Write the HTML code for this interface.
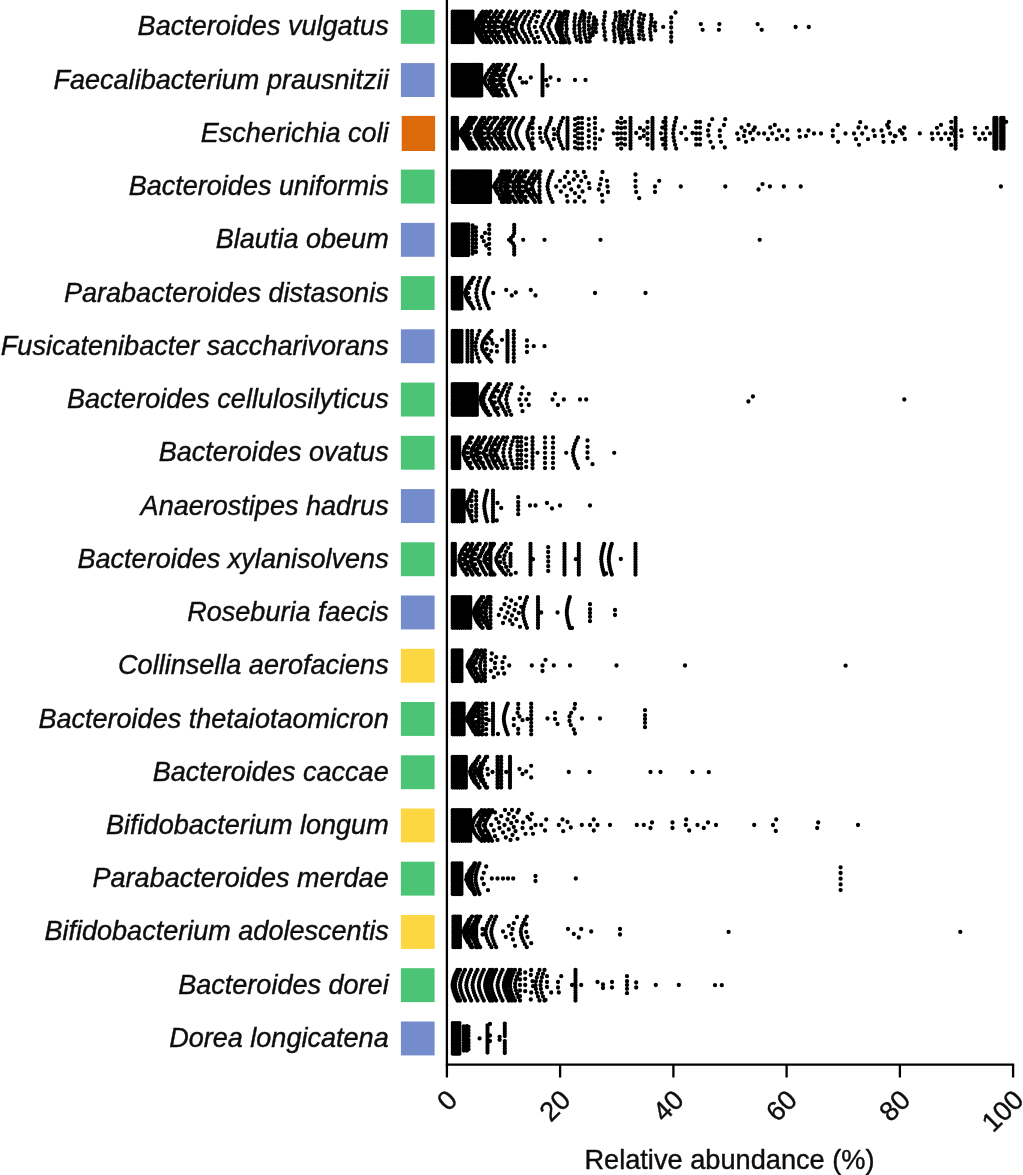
<!DOCTYPE html>
<html lang="en"><head><meta charset="utf-8"><title>Relative abundance</title>
<style>html,body{margin:0;padding:0;background:#fff}body{width:1023px;height:1175px;overflow:hidden}svg{display:block;will-change:transform}text{font-family:"Liberation Sans",Arial,Helvetica,sans-serif;fill:#0d0d0d;stroke:#0d0d0d;stroke-width:.4px;stroke-linejoin:round}</style></head><body>
<svg width="1023" height="1175" viewBox="0 0 1023 1175">
<rect width="1023" height="1175" fill="#fff"/>
<g font-size="27.05" font-style="italic" text-anchor="end">
<text x="388.7" y="35.4">Bacteroides vulgatus</text>
<text x="388.7" y="88.6">Faecalibacterium prausnitzii</text>
<text x="388.7" y="141.8">Escherichia coli</text>
<text x="388.7" y="195.1">Bacteroides uniformis</text>
<text x="388.7" y="248.3">Blautia obeum</text>
<text x="388.7" y="301.6">Parabacteroides distasonis</text>
<text x="388.7" y="354.8">Fusicatenibacter saccharivorans</text>
<text x="388.7" y="408.0">Bacteroides cellulosilyticus</text>
<text x="388.7" y="461.3">Bacteroides ovatus</text>
<text x="388.7" y="514.5">Anaerostipes hadrus</text>
<text x="388.7" y="567.8">Bacteroides xylanisolvens</text>
<text x="388.7" y="621.0">Roseburia faecis</text>
<text x="388.7" y="674.2">Collinsella aerofaciens</text>
<text x="388.7" y="727.5">Bacteroides thetaiotaomicron</text>
<text x="388.7" y="780.7">Bacteroides caccae</text>
<text x="388.7" y="834.0">Bifidobacterium longum</text>
<text x="388.7" y="887.2">Parabacteroides merdae</text>
<text x="388.7" y="940.4">Bifidobacterium adolescentis</text>
<text x="388.7" y="993.7">Bacteroides dorei</text>
<text x="388.7" y="1046.9">Dorea longicatena</text>
</g>
<rect x="400.9" y="9.9" width="33.7" height="33.9" fill="#4bc475"/>
<rect x="400.9" y="63.1" width="33.7" height="33.9" fill="#748bcc"/>
<rect x="401.7" y="115.9" width="33.4" height="35.1" fill="#dc6a0a"/>
<rect x="400.9" y="169.6" width="33.7" height="33.9" fill="#4bc475"/>
<rect x="400.9" y="222.9" width="33.7" height="33.9" fill="#748bcc"/>
<rect x="400.9" y="276.1" width="33.7" height="33.9" fill="#4bc475"/>
<rect x="400.9" y="329.3" width="33.7" height="33.9" fill="#748bcc"/>
<rect x="400.9" y="382.6" width="33.7" height="33.9" fill="#4bc475"/>
<rect x="400.9" y="435.8" width="33.7" height="33.9" fill="#4bc475"/>
<rect x="400.9" y="489.1" width="33.7" height="33.9" fill="#748bcc"/>
<rect x="400.9" y="542.3" width="33.7" height="33.9" fill="#4bc475"/>
<rect x="400.9" y="595.5" width="33.7" height="33.9" fill="#748bcc"/>
<rect x="400.9" y="648.8" width="33.7" height="33.9" fill="#fcd742"/>
<rect x="400.9" y="702.0" width="33.7" height="33.9" fill="#4bc475"/>
<rect x="400.9" y="755.3" width="33.7" height="33.9" fill="#4bc475"/>
<rect x="400.9" y="808.5" width="33.7" height="33.9" fill="#fcd742"/>
<rect x="400.9" y="861.7" width="33.7" height="33.9" fill="#4bc475"/>
<rect x="400.9" y="915.0" width="33.7" height="33.9" fill="#fcd742"/>
<rect x="400.9" y="968.2" width="33.7" height="33.9" fill="#4bc475"/>
<rect x="400.9" y="1021.5" width="33.7" height="33.9" fill="#748bcc"/>
<g stroke="#000" stroke-width="2.3" fill="none">
<path d="M446.9 0V1077.6"/>
<path d="M445.8 1064.7H1014.2"/>
<path d="M560.1 1064.7V1077.6M673.4 1064.7V1077.6M786.6 1064.7V1077.6M899.9 1064.7V1077.6M1013.1 1064.7V1077.6"/>
</g>
<g font-size="27.2" text-anchor="end">
<text transform="translate(458.9 1101.5) rotate(-45)" x="0" y="0">0</text>
<text transform="translate(572.1 1101.5) rotate(-45)" x="0" y="0">20</text>
<text transform="translate(685.4 1101.5) rotate(-45)" x="0" y="0">40</text>
<text transform="translate(798.6 1101.5) rotate(-45)" x="0" y="0">60</text>
<text transform="translate(911.9 1101.5) rotate(-45)" x="0" y="0">80</text>
<text transform="translate(1025.1 1101.5) rotate(-45)" x="0" y="0">100</text>
</g>
<text x="729.5" y="1168.8" font-size="27.2" text-anchor="middle">Relative abundance (%)</text>
<path d="M452.7 11.6h0M452.7 13.7h0M452.7 15.9h0M452.7 18.1h0M452.7 20.3h0M452.7 22.5h0M452.7 24.7h0M452.7 26.9h0M452.7 29.0h0M452.7 31.2h0M452.7 33.4h0M452.7 35.6h0M452.7 37.8h0M452.7 40.0h0M452.7 42.2h0M454.9 11.6h0M454.9 13.7h0M454.9 15.9h0M454.9 18.1h0M454.9 20.3h0M454.9 22.5h0M454.9 24.7h0M454.9 26.9h0M454.9 29.0h0M454.9 31.2h0M454.9 33.4h0M454.9 35.6h0M454.9 37.8h0M454.9 40.0h0M454.9 42.2h0M457.1 11.6h0M457.1 13.7h0M457.1 15.9h0M457.1 18.1h0M457.1 20.3h0M457.1 22.5h0M457.1 24.7h0M457.1 26.9h0M457.1 29.0h0M457.1 31.2h0M457.1 33.4h0M457.1 35.6h0M457.1 37.8h0M457.1 40.0h0M457.1 42.2h0M459.3 11.6h0M459.3 13.7h0M459.3 15.9h0M459.3 18.1h0M459.3 20.3h0M459.3 22.5h0M459.3 24.7h0M459.3 26.9h0M459.3 29.0h0M459.3 31.2h0M459.3 33.4h0M459.3 35.6h0M459.3 37.8h0M459.3 40.0h0M459.3 42.2h0M461.5 11.6h0M461.5 13.7h0M461.5 15.9h0M461.5 18.1h0M461.5 20.3h0M461.5 22.5h0M461.5 24.7h0M461.5 26.9h0M461.5 29.0h0M461.5 31.2h0M461.5 33.4h0M461.5 35.6h0M461.5 37.8h0M461.5 40.0h0M461.5 42.2h0M463.7 11.6h0M463.7 13.7h0M463.7 15.9h0M463.7 18.1h0M463.7 20.3h0M463.7 22.5h0M463.7 24.7h0M463.7 26.9h0M463.7 29.0h0M463.7 31.2h0M463.7 33.4h0M463.7 35.6h0M463.7 37.8h0M463.7 40.0h0M463.7 42.2h0M465.9 11.6h0M465.9 13.7h0M465.9 15.9h0M465.9 18.1h0M465.9 20.3h0M465.9 22.5h0M465.9 24.7h0M465.9 26.9h0M465.9 29.0h0M465.9 31.2h0M465.9 33.4h0M465.9 35.6h0M465.9 37.8h0M465.9 40.0h0M465.9 42.2h0M468.1 11.6h0M468.1 13.7h0M468.1 15.9h0M468.1 18.1h0M468.1 20.3h0M468.1 22.5h0M468.1 24.7h0M468.1 26.9h0M468.1 29.0h0M468.1 31.2h0M468.1 33.4h0M468.1 35.6h0M468.1 37.8h0M468.1 40.0h0M468.1 42.2h0M470.3 11.6h0M470.3 13.7h0M470.3 15.9h0M470.3 18.1h0M470.3 20.3h0M470.3 22.5h0M470.3 24.7h0M470.3 26.9h0M470.3 29.0h0M470.3 31.2h0M470.3 33.4h0M470.3 35.6h0M470.3 37.8h0M470.3 40.0h0M470.3 42.2h0M472.5 11.6h0M472.5 13.7h0M472.5 15.9h0M472.5 18.1h0M472.5 20.3h0M472.5 22.5h0M472.5 24.7h0M472.5 26.9h0M472.5 29.0h0M472.5 31.2h0M472.5 33.4h0M472.5 35.6h0M472.5 37.8h0M472.5 40.0h0M472.5 42.2h0M474.4 26.9h0M474.7 28.2h0M475.2 25.5h0M475.3 29.6h0M475.3 24.1h0M476.4 31.0h0M476.0 22.7h0M476.9 32.4h0M476.7 21.3h0M477.5 33.8h0M477.2 19.9h0M478.3 35.2h0M478.5 18.5h0M479.1 36.6h0M479.2 17.1h0M480.0 38.0h0M479.6 15.7h0M481.0 39.4h0M480.9 14.3h0M481.7 40.8h0M481.5 12.9h0M483.1 42.1h0M482.8 11.6h0M478.2 26.9h0M479.1 29.4h0M478.9 24.3h0M480.2 32.0h0M480.2 21.8h0M481.0 34.5h0M481.0 19.2h0M482.6 37.1h0M483.1 16.6h0M484.5 39.6h0M484.6 14.1h0M486.3 42.2h0M486.4 11.6h0M482.2 27.8h0M482.4 26.0h0M483.0 29.6h0M483.1 24.2h0M483.7 31.4h0M483.3 22.4h0M484.8 33.1h0M484.8 20.6h0M485.8 35.0h0M485.6 18.8h0M486.9 36.8h0M486.5 17.0h0M488.2 38.6h0M488.0 15.2h0M489.1 40.4h0M489.0 13.4h0M490.9 42.2h0M491.0 11.6h0M485.0 26.9h0M486.5 32.0h0M486.6 21.8h0M488.6 37.1h0M488.7 16.6h0M489.8 42.2h0M490.2 11.6h0M488.8 26.9h0M489.3 28.4h0M488.8 25.3h0M489.1 29.9h0M489.4 23.8h0M489.6 31.4h0M489.7 22.3h0M490.5 33.0h0M490.7 20.7h0M491.2 34.5h0M491.1 19.2h0M492.5 36.0h0M492.2 17.7h0M493.6 37.6h0M493.6 16.1h0M494.3 39.1h0M494.3 14.6h0M495.5 40.6h0M495.6 13.1h0M496.8 42.2h0M496.8 11.6h0M491.6 26.9h0M492.6 32.0h0M492.8 21.8h0M494.2 37.1h0M494.3 16.6h0M496.9 42.2h0M496.6 11.6h0M494.3 27.9h0M494.3 25.8h0M494.6 29.9h0M495.0 23.8h0M495.8 32.0h0M496.0 21.8h0M496.8 34.0h0M497.0 19.7h0M498.3 36.0h0M497.8 17.7h0M499.1 38.1h0M499.5 15.6h0M501.1 40.1h0M500.6 13.6h0M502.2 42.2h0M502.3 11.6h0M498.0 26.9h0M499.4 32.0h0M499.6 21.8h0M501.1 37.1h0M501.1 16.6h0M503.3 42.2h0M502.8 11.6h0M501.8 26.9h0M502.4 28.4h0M502.6 25.3h0M503.5 29.9h0M503.1 23.8h0M504.0 31.4h0M504.0 22.3h0M505.2 33.0h0M504.9 20.7h0M506.0 34.5h0M505.5 19.2h0M506.4 36.0h0M506.7 17.7h0M507.7 37.6h0M507.4 16.1h0M508.0 39.1h0M508.0 14.6h0M509.1 40.6h0M508.8 13.1h0M510.1 42.2h0M510.2 11.6h0M505.0 26.9h0M506.4 32.0h0M506.5 21.8h0M507.9 37.1h0M507.8 16.6h0M509.6 42.2h0M509.9 11.6h0M508.4 26.9h0M508.5 28.8h0M508.4 24.9h0M509.9 30.7h0M509.9 23.0h0M510.9 32.6h0M510.5 21.1h0M511.9 34.5h0M511.9 19.2h0M512.5 36.4h0M512.9 17.3h0M514.1 38.3h0M514.0 15.4h0M515.1 40.2h0M515.0 13.5h0M516.2 42.2h0M516.2 11.6h0M512.4 29.7h0M512.8 24.0h0M514.1 35.4h0M514.7 18.3h0M515.7 26.9h0M515.8 29.4h0M516.3 24.3h0M516.8 32.0h0M516.9 21.8h0M518.4 34.5h0M518.4 19.2h0M519.9 37.1h0M520.2 16.6h0M521.9 39.6h0M521.7 14.1h0M523.7 42.2h0M524.2 11.6h0M521.8 28.2h0M521.9 25.5h0M522.7 31.0h0M523.2 22.7h0M524.7 33.8h0M524.6 19.9h0M526.1 36.6h0M525.5 17.1h0M527.5 39.4h0M527.7 14.3h0M528.8 42.1h0M529.0 11.6h0M529.1 28.6h0M528.6 25.2h0M530.0 32.0h0M530.0 21.8h0M531.6 35.4h0M531.6 18.4h0M534.0 38.8h0M533.9 14.9h0M535.2 42.2h0M535.5 11.6h0M534.8 26.9h0M536.5 32.0h0M536.4 21.8h0M538.0 37.1h0M537.9 16.6h0M539.8 42.2h0M539.7 11.6h0M541.1 26.9h0M542.3 29.9h0M542.5 23.8h0M544.1 33.0h0M543.8 20.7h0M545.7 36.0h0M545.5 17.7h0M547.1 39.1h0M547.1 14.6h0M549.0 42.2h0M549.1 11.6h0M548.4 26.9h0M549.5 29.9h0M549.0 23.8h0M550.7 33.0h0M550.7 20.7h0M552.6 36.0h0M552.6 17.7h0M554.0 39.1h0M554.3 14.6h0M556.1 42.2h0M555.8 11.6h0M556.5 27.9h0M556.4 25.8h0M557.2 29.9h0M557.1 23.8h0M557.8 32.0h0M558.1 21.8h0M558.9 34.0h0M559.0 19.7h0M560.9 36.0h0M560.3 17.7h0M561.9 38.1h0M561.9 15.6h0M564.1 40.1h0M563.6 13.6h0M565.2 42.2h0M565.8 11.6h0M560.6 29.7h0M560.7 24.0h0M562.6 35.4h0M562.4 18.3h0M559.8 12.3h0M559.6 15.6h0M558.4 18.9h0M559.0 22.3h0M559.1 25.6h0M558.1 28.9h0M558.9 32.3h0M559.8 35.6h0M560.9 38.9h0M560.8 42.3h0M565.0 11.7h0M563.7 15.1h0M563.0 18.5h0M562.4 21.9h0M561.9 25.3h0M561.9 28.7h0M561.6 32.1h0M562.5 35.5h0M563.5 38.9h0M563.2 42.3h0M567.9 11.9h0M567.3 15.3h0M566.6 18.7h0M566.3 22.1h0M566.3 25.5h0M566.8 28.9h0M566.2 32.3h0M566.7 35.7h0M568.3 39.1h0M569.3 42.5h0M575.4 14.3h0M574.9 18.0h0M574.4 21.7h0M574.6 25.4h0M574.3 29.0h0M574.5 32.7h0M575.7 36.4h0M576.7 40.1h0M582.6 11.4h0M581.5 14.8h0M580.4 18.2h0M579.8 21.6h0M579.1 25.0h0M579.6 28.4h0M579.7 31.8h0M579.7 35.2h0M580.4 38.6h0M580.9 42.0h0M584.7 13.9h0M584.5 17.3h0M583.9 20.8h0M584.2 24.2h0M584.2 27.6h0M584.2 31.1h0M584.7 34.5h0M585.7 37.9h0M586.6 41.4h0M590.1 13.7h0M589.1 17.7h0M588.5 21.6h0M588.8 25.6h0M588.8 29.6h0M589.5 33.5h0M589.9 37.5h0M589.7 41.4h0M594.1 17.5h0M593.7 21.1h0M593.3 24.6h0M592.1 28.1h0M593.2 31.6h0M592.7 35.2h0M596.1 20.3h0M596.6 24.2h0M595.7 28.2h0M596.1 32.1h0M605.1 12.4h0M604.6 16.3h0M604.2 20.2h0M603.4 24.1h0M603.9 28.0h0M604.8 31.9h0M604.5 35.8h0M605.5 39.7h0M615.6 12.9h0M615.9 16.5h0M615.2 20.0h0M613.5 23.6h0M614.3 27.1h0M613.6 30.7h0M614.4 34.2h0M614.7 37.8h0M614.5 41.3h0M620.1 12.0h0M620.3 15.4h0M620.1 18.8h0M619.4 22.2h0M619.0 25.6h0M618.5 29.0h0M619.5 32.4h0M619.8 35.8h0M621.0 39.2h0M621.6 42.6h0M623.8 15.0h0M622.7 18.4h0M623.3 21.9h0M622.7 25.4h0M622.0 28.8h0M623.5 32.3h0M622.9 35.7h0M623.7 39.2h0M628.3 11.6h0M627.5 15.5h0M626.8 19.3h0M626.3 23.1h0M626.0 26.9h0M627.3 30.8h0M627.9 34.6h0M628.3 38.4h0M629.4 42.2h0M634.1 11.4h0M632.2 14.8h0M632.2 18.2h0M631.4 21.6h0M631.7 25.0h0M631.0 28.4h0M631.2 31.8h0M631.7 35.2h0M632.4 38.6h0M633.2 42.0h0M640.4 14.0h0M639.4 18.1h0M638.8 22.2h0M639.3 26.2h0M639.4 30.3h0M639.0 34.4h0M639.5 38.4h0M644.2 15.4h0M643.3 19.4h0M642.2 23.4h0M642.3 27.4h0M642.2 31.3h0M643.2 35.3h0M643.8 39.3h0M651.2 15.0h0M651.6 18.5h0M651.1 22.0h0M650.7 25.5h0M649.9 29.1h0M650.3 32.6h0M650.7 36.1h0M651.2 39.6h0M655.2 22.6h0M654.7 26.5h0M655.3 30.4h0M663.2 26.9h0M671.2 17.5h0M671.2 22.5h0M671.2 27.5h0M671.2 32.5h0M671.2 37.0h0M671.2 41.5h0M675.5 12.5h0M700.8 24.1h0M702.6 29.8h0M719.4 24.1h0M718.9 29.8h0M757.6 24.1h0M761.7 29.8h0M795.6 27.0h0M808.8 27.0h0M452.7 64.8h0M452.7 67.0h0M452.7 69.2h0M452.7 71.3h0M452.7 73.5h0M452.7 75.7h0M452.7 77.9h0M452.7 80.1h0M452.7 82.3h0M452.7 84.5h0M452.7 86.6h0M452.7 88.8h0M452.7 91.0h0M452.7 93.2h0M452.7 95.4h0M454.9 64.8h0M454.9 67.0h0M454.9 69.2h0M454.9 71.3h0M454.9 73.5h0M454.9 75.7h0M454.9 77.9h0M454.9 80.1h0M454.9 82.3h0M454.9 84.5h0M454.9 86.6h0M454.9 88.8h0M454.9 91.0h0M454.9 93.2h0M454.9 95.4h0M457.1 64.8h0M457.1 67.0h0M457.1 69.2h0M457.1 71.3h0M457.1 73.5h0M457.1 75.7h0M457.1 77.9h0M457.1 80.1h0M457.1 82.3h0M457.1 84.5h0M457.1 86.6h0M457.1 88.8h0M457.1 91.0h0M457.1 93.2h0M457.1 95.4h0M459.3 64.8h0M459.3 67.0h0M459.3 69.2h0M459.3 71.3h0M459.3 73.5h0M459.3 75.7h0M459.3 77.9h0M459.3 80.1h0M459.3 82.3h0M459.3 84.5h0M459.3 86.6h0M459.3 88.8h0M459.3 91.0h0M459.3 93.2h0M459.3 95.4h0M461.5 64.8h0M461.5 67.0h0M461.5 69.2h0M461.5 71.3h0M461.5 73.5h0M461.5 75.7h0M461.5 77.9h0M461.5 80.1h0M461.5 82.3h0M461.5 84.5h0M461.5 86.6h0M461.5 88.8h0M461.5 91.0h0M461.5 93.2h0M461.5 95.4h0M463.7 64.8h0M463.7 67.0h0M463.7 69.2h0M463.7 71.3h0M463.7 73.5h0M463.7 75.7h0M463.7 77.9h0M463.7 80.1h0M463.7 82.3h0M463.7 84.5h0M463.7 86.6h0M463.7 88.8h0M463.7 91.0h0M463.7 93.2h0M463.7 95.4h0M465.9 64.8h0M465.9 67.0h0M465.9 69.2h0M465.9 71.3h0M465.9 73.5h0M465.9 75.7h0M465.9 77.9h0M465.9 80.1h0M465.9 82.3h0M465.9 84.5h0M465.9 86.6h0M465.9 88.8h0M465.9 91.0h0M465.9 93.2h0M465.9 95.4h0M468.1 64.8h0M468.1 67.0h0M468.1 69.2h0M468.1 71.3h0M468.1 73.5h0M468.1 75.7h0M468.1 77.9h0M468.1 80.1h0M468.1 82.3h0M468.1 84.5h0M468.1 86.6h0M468.1 88.8h0M468.1 91.0h0M468.1 93.2h0M468.1 95.4h0M470.3 64.8h0M470.3 67.0h0M470.3 69.2h0M470.3 71.3h0M470.3 73.5h0M470.3 75.7h0M470.3 77.9h0M470.3 80.1h0M470.3 82.3h0M470.3 84.5h0M470.3 86.6h0M470.3 88.8h0M470.3 91.0h0M470.3 93.2h0M470.3 95.4h0M472.5 64.8h0M472.5 67.0h0M472.5 69.2h0M472.5 71.3h0M472.5 73.5h0M472.5 75.7h0M472.5 77.9h0M472.5 80.1h0M472.5 82.3h0M472.5 84.5h0M472.5 86.6h0M472.5 88.8h0M472.5 91.0h0M472.5 93.2h0M472.5 95.4h0M474.7 64.8h0M474.7 67.0h0M474.7 69.2h0M474.7 71.3h0M474.7 73.5h0M474.7 75.7h0M474.7 77.9h0M474.7 80.1h0M474.7 82.3h0M474.7 84.5h0M474.7 86.6h0M474.7 88.8h0M474.7 91.0h0M474.7 93.2h0M474.7 95.4h0M476.9 64.8h0M476.9 67.0h0M476.9 69.2h0M476.9 71.3h0M476.9 73.5h0M476.9 75.7h0M476.9 77.9h0M476.9 80.1h0M476.9 82.3h0M476.9 84.5h0M476.9 86.6h0M476.9 88.8h0M476.9 91.0h0M476.9 93.2h0M476.9 95.4h0M479.1 64.8h0M479.1 67.0h0M479.1 69.2h0M479.1 71.3h0M479.1 73.5h0M479.1 75.7h0M479.1 77.9h0M479.1 80.1h0M479.1 82.3h0M479.1 84.5h0M479.1 86.6h0M479.1 88.8h0M479.1 91.0h0M479.1 93.2h0M479.1 95.4h0M481.3 64.8h0M481.3 67.0h0M481.3 69.2h0M481.3 71.3h0M481.3 73.5h0M481.3 75.7h0M481.3 77.9h0M481.3 80.1h0M481.3 82.3h0M481.3 84.5h0M481.3 86.6h0M481.3 88.8h0M481.3 91.0h0M481.3 93.2h0M481.3 95.4h0M484.7 81.0h0M484.6 79.2h0M485.1 82.8h0M485.3 77.4h0M485.8 84.6h0M486.1 75.6h0M487.2 86.4h0M487.1 73.8h0M488.3 88.2h0M488.6 72.0h0M489.8 90.0h0M489.2 70.2h0M491.0 91.8h0M490.9 68.4h0M492.0 93.6h0M492.2 66.6h0M493.6 95.4h0M493.5 64.8h0M489.0 80.1h0M489.9 83.2h0M490.4 77.0h0M491.8 86.2h0M492.1 74.0h0M493.6 89.3h0M493.7 70.9h0M495.2 92.3h0M495.5 67.9h0M497.5 95.4h0M497.5 64.8h0M491.5 80.1h0M492.4 81.6h0M492.4 78.6h0M493.5 83.2h0M493.6 77.0h0M494.4 84.7h0M494.3 75.5h0M495.3 86.2h0M495.1 74.0h0M496.0 87.7h0M496.2 72.4h0M496.8 89.3h0M496.7 70.9h0M498.0 90.8h0M497.9 69.4h0M498.5 92.3h0M498.5 67.9h0M499.4 93.9h0M499.5 66.3h0M500.0 95.4h0M499.9 64.8h0M496.1 80.1h0M497.9 85.2h0M497.7 75.0h0M499.4 90.3h0M499.4 69.9h0M501.3 95.4h0M501.1 64.8h0M499.5 80.1h0M500.3 82.0h0M500.2 78.2h0M501.2 83.9h0M500.7 76.3h0M501.8 85.8h0M501.8 74.4h0M502.5 87.7h0M503.2 72.4h0M503.7 89.7h0M503.6 70.5h0M505.0 91.6h0M504.7 68.6h0M506.2 93.5h0M506.0 66.7h0M507.0 95.4h0M507.0 64.8h0M503.2 80.1h0M503.9 85.2h0M504.3 75.0h0M505.6 90.3h0M505.5 69.9h0M507.8 95.4h0M508.2 64.8h0M509.1 80.1h0M510.0 82.6h0M509.6 77.5h0M510.7 85.2h0M510.7 75.0h0M511.9 87.7h0M511.8 72.4h0M512.9 90.3h0M513.3 69.9h0M514.5 92.8h0M514.1 67.3h0M515.7 95.4h0M515.3 64.8h0M520.0 78.0h0M522.5 82.5h0M526.2 82.5h0M530.8 77.5h0M542.5 81.3h0M542.5 78.9h0M542.5 83.6h0M542.5 76.6h0M542.5 86.0h0M542.5 74.2h0M542.5 88.3h0M542.5 71.9h0M542.5 90.7h0M542.5 69.5h0M542.5 93.0h0M542.5 67.1h0M542.5 95.4h0M542.5 64.8h0M546.2 80.0h0M547.5 85.5h0M550.5 77.5h0M558.8 80.0h0M575.0 80.0h0M585.5 80.0h0M452.7 118.0h0M452.7 120.2h0M452.7 122.4h0M452.7 124.6h0M452.7 126.8h0M452.7 129.0h0M452.7 131.1h0M452.7 133.3h0M452.7 135.5h0M452.7 137.7h0M452.7 139.9h0M452.7 142.1h0M452.7 144.3h0M452.7 146.4h0M452.7 148.6h0M454.9 118.0h0M454.9 120.2h0M454.9 122.4h0M454.9 124.6h0M454.9 126.8h0M454.9 129.0h0M454.9 131.1h0M454.9 133.3h0M454.9 135.5h0M454.9 137.7h0M454.9 139.9h0M454.9 142.1h0M454.9 144.3h0M454.9 146.4h0M454.9 148.6h0M457.1 118.0h0M457.1 120.2h0M457.1 122.4h0M457.1 124.6h0M457.1 126.8h0M457.1 129.0h0M457.1 131.1h0M457.1 133.3h0M457.1 135.5h0M457.1 137.7h0M457.1 139.9h0M457.1 142.1h0M457.1 144.3h0M457.1 146.4h0M457.1 148.6h0M460.3 134.0h0M460.5 132.7h0M460.9 135.3h0M461.0 131.3h0M462.3 136.7h0M461.8 130.0h0M462.9 138.0h0M462.8 128.7h0M463.9 139.3h0M464.1 127.3h0M464.4 140.6h0M464.8 126.0h0M465.6 142.0h0M465.7 124.7h0M466.3 143.3h0M466.6 123.4h0M467.0 144.6h0M467.0 122.0h0M467.7 146.0h0M468.1 120.7h0M468.7 147.3h0M468.6 119.4h0M469.3 148.6h0M469.7 118.0h0M464.1 134.7h0M464.5 131.9h0M465.2 137.5h0M465.5 129.2h0M467.0 140.3h0M467.0 126.4h0M468.0 143.1h0M468.1 123.6h0M470.1 145.8h0M470.0 120.8h0M471.8 148.6h0M471.8 118.0h0M466.5 134.1h0M466.7 132.6h0M467.8 135.5h0M467.2 131.1h0M468.3 137.0h0M468.0 129.7h0M468.8 138.4h0M469.2 128.2h0M469.8 139.9h0M469.6 126.8h0M470.6 141.3h0M471.0 125.3h0M471.9 142.8h0M471.5 123.9h0M472.6 144.3h0M473.1 122.4h0M473.5 145.7h0M473.8 120.9h0M474.7 147.2h0M474.9 119.5h0M475.8 148.6h0M475.9 118.0h0M469.5 133.3h0M470.5 138.4h0M471.1 128.2h0M472.3 143.5h0M472.3 123.1h0M475.0 148.6h0M474.5 118.0h0M474.5 134.2h0M474.5 132.4h0M475.5 136.0h0M475.6 130.6h0M476.2 137.8h0M476.3 128.8h0M477.2 139.6h0M477.0 127.0h0M478.5 141.4h0M478.3 125.2h0M479.5 143.2h0M479.1 123.4h0M480.3 145.0h0M480.3 121.6h0M481.5 146.8h0M481.1 119.8h0M482.3 148.6h0M482.4 118.0h0M477.8 135.0h0M477.8 131.6h0M478.6 138.4h0M478.7 128.2h0M480.8 141.8h0M480.3 124.8h0M482.3 145.2h0M482.1 121.4h0M484.4 148.6h0M484.4 118.0h0M480.7 133.3h0M480.7 134.9h0M480.6 131.8h0M481.4 136.4h0M481.3 130.3h0M482.0 137.9h0M481.7 128.7h0M482.7 139.5h0M482.4 127.2h0M483.8 141.0h0M483.7 125.7h0M484.3 142.5h0M484.8 124.2h0M485.5 144.0h0M485.4 122.6h0M487.2 145.6h0M486.9 121.1h0M488.5 147.1h0M488.6 119.6h0M489.7 148.6h0M490.2 118.0h0M484.1 133.3h0M485.9 138.4h0M485.9 128.2h0M487.3 143.5h0M487.1 123.1h0M489.1 148.6h0M489.2 118.0h0M488.1 133.3h0M488.5 135.2h0M488.1 131.4h0M488.8 137.2h0M488.9 129.5h0M490.0 139.1h0M490.0 127.6h0M491.2 141.0h0M491.0 125.7h0M492.7 142.9h0M492.3 123.8h0M493.8 144.8h0M494.1 121.9h0M495.6 146.7h0M495.3 119.9h0M496.9 148.6h0M497.3 118.0h0M489.3 133.3h0M491.2 138.4h0M490.9 128.2h0M492.5 143.5h0M492.6 123.1h0M494.5 148.6h0M494.3 118.0h0M492.9 133.3h0M494.4 134.9h0M494.3 131.8h0M495.2 136.4h0M495.5 130.3h0M496.2 137.9h0M496.4 128.7h0M497.3 139.5h0M497.7 127.2h0M498.4 141.0h0M498.3 125.7h0M499.1 142.5h0M499.4 124.2h0M500.5 144.0h0M500.5 122.6h0M501.6 145.6h0M501.5 121.1h0M502.1 147.1h0M502.0 119.6h0M503.4 148.6h0M503.4 118.0h0M498.5 133.3h0M499.5 138.4h0M499.4 128.2h0M501.1 143.5h0M501.5 123.1h0M503.7 148.6h0M503.7 118.0h0M500.7 134.1h0M500.8 132.5h0M501.0 135.7h0M501.0 130.9h0M502.0 137.4h0M502.2 129.3h0M502.8 139.0h0M502.7 127.7h0M503.6 140.6h0M503.7 126.1h0M505.1 142.2h0M504.8 124.5h0M506.4 143.8h0M505.9 122.9h0M507.3 145.4h0M507.5 121.3h0M508.8 147.0h0M509.1 119.6h0M510.7 148.6h0M510.8 118.0h0M503.3 133.3h0M504.3 138.4h0M504.3 128.2h0M505.9 143.5h0M506.2 123.1h0M508.5 148.6h0M507.9 118.0h0M508.9 134.5h0M508.9 132.2h0M509.4 136.9h0M509.4 129.8h0M510.3 139.2h0M510.3 127.4h0M511.3 141.6h0M511.3 125.1h0M512.6 143.9h0M512.6 122.7h0M514.1 146.3h0M514.1 120.4h0M515.8 148.6h0M515.8 118.0h0M516.4 134.5h0M516.4 132.2h0M516.9 136.9h0M516.9 129.8h0M517.8 139.2h0M517.8 127.4h0M518.8 141.6h0M518.8 125.1h0M520.1 143.9h0M520.1 122.7h0M521.6 146.3h0M521.6 120.4h0M523.2 148.6h0M523.2 118.0h0M527.5 134.7h0M527.3 131.9h0M527.9 137.5h0M528.4 129.2h0M529.0 140.3h0M529.2 126.4h0M530.8 143.1h0M530.4 123.6h0M531.8 145.8h0M532.3 120.8h0M533.8 148.6h0M533.4 118.0h0M532.5 133.3h0M532.5 138.4h0M532.5 128.2h0M532.5 143.5h0M532.5 123.1h0M532.5 148.6h0M532.5 118.0h0M540.0 128.0h0M540.0 133.0h0M540.5 138.0h0M542.5 141.8h0M545.4 133.3h0M546.1 136.4h0M546.2 130.3h0M547.4 139.5h0M547.3 127.2h0M548.9 142.5h0M549.1 124.2h0M550.4 145.6h0M550.3 121.1h0M551.7 148.6h0M551.1 118.0h0M553.8 129.2h0M554.2 134.2h0M553.8 139.2h0M558.1 135.0h0M558.1 131.6h0M558.9 138.4h0M558.9 128.2h0M560.0 141.8h0M560.0 124.8h0M561.3 145.2h0M561.3 121.4h0M563.0 148.6h0M563.0 118.0h0M567.5 133.3h0M567.5 135.9h0M567.5 130.8h0M567.5 138.4h0M567.5 128.2h0M567.5 141.0h0M567.5 125.7h0M567.5 143.5h0M567.5 123.1h0M567.5 146.1h0M567.5 120.6h0M567.5 148.6h0M567.5 118.0h0M575.0 136.2h0M575.0 130.5h0M575.0 141.9h0M575.0 124.8h0M575.0 147.6h0M575.0 119.1h0M578.2 133.3h0M578.2 138.4h0M578.2 128.2h0M578.2 143.5h0M578.2 123.1h0M578.2 148.6h0M578.2 118.0h0M582.0 133.3h0M582.0 138.4h0M582.0 128.2h0M582.0 143.5h0M582.0 123.1h0M582.0 148.6h0M582.0 118.0h0M588.8 136.2h0M588.8 130.5h0M588.8 141.9h0M588.8 124.8h0M588.8 147.6h0M588.8 119.1h0M595.0 133.3h0M595.0 138.4h0M595.0 128.2h0M595.0 143.5h0M595.0 123.1h0M595.0 148.6h0M595.0 118.0h0M600.0 139.2h0M602.5 130.5h0M613.8 133.3h0M617.5 133.3h0M617.5 139.0h0M617.5 127.6h0M617.5 144.7h0M617.5 121.9h0M621.2 133.3h0M621.2 138.4h0M621.2 128.2h0M621.2 143.5h0M621.2 123.1h0M621.2 148.6h0M621.2 118.0h0M625.0 133.3h0M625.0 139.0h0M625.0 127.6h0M625.0 144.7h0M625.0 121.9h0M630.5 134.7h0M630.5 131.9h0M630.5 137.5h0M630.5 129.2h0M630.5 140.3h0M630.5 126.4h0M630.5 143.1h0M630.5 123.6h0M630.5 145.8h0M630.5 120.8h0M630.5 148.6h0M630.5 118.0h0M636.2 133.0h0M640.0 128.0h0M640.0 138.0h0M643.8 130.5h0M643.8 136.0h0M647.5 133.3h0M647.5 139.0h0M647.5 127.6h0M647.5 144.7h0M647.5 121.9h0M652.5 134.5h0M652.5 132.2h0M652.5 136.9h0M652.5 129.8h0M652.5 139.2h0M652.5 127.4h0M652.5 141.6h0M652.5 125.1h0M652.5 143.9h0M652.5 122.7h0M652.5 146.3h0M652.5 120.4h0M652.5 148.6h0M652.5 118.0h0M660.9 133.3h0M662.1 139.0h0M662.2 127.6h0M663.2 144.7h0M663.4 121.9h0M665.5 133.3h0M665.5 137.2h0M665.5 129.5h0M665.5 141.0h0M665.5 125.7h0M665.5 144.8h0M665.5 121.9h0M665.5 148.6h0M665.5 118.0h0M673.2 133.3h0M673.6 137.2h0M673.6 129.5h0M674.2 141.0h0M674.2 125.7h0M675.1 144.8h0M675.1 121.9h0M676.2 148.6h0M676.2 118.0h0M681.2 133.0h0M685.0 127.5h0M686.2 139.2h0M692.5 133.0h0M696.2 133.3h0M696.2 139.0h0M696.2 127.6h0M696.2 144.7h0M696.2 121.9h0M700.0 133.3h0M700.0 139.0h0M700.0 127.6h0M700.0 144.7h0M700.0 121.9h0M712.2 119.2h0M709.2 125.0h0M708.0 130.5h0M708.5 135.5h0M710.5 141.8h0M713.0 147.5h0M725.2 119.2h0M724.0 125.0h0M719.8 130.5h0M719.8 136.0h0M721.0 141.8h0M724.8 147.5h0M737.2 133.5h0M738.5 139.2h0M741.5 127.5h0M744.8 131.0h0M744.0 136.0h0M746.0 141.8h0M748.5 125.0h0M750.2 133.0h0M753.5 130.0h0M752.8 139.2h0M754.8 127.5h0M758.5 133.5h0M764.2 133.5h0M768.0 139.2h0M770.2 127.5h0M772.2 133.5h0M774.8 125.0h0M776.8 139.2h0M779.0 130.5h0M782.2 136.0h0M787.2 130.5h0M787.8 139.2h0M799.2 130.5h0M799.8 136.8h0M806.0 136.0h0M808.5 130.5h0M814.0 133.5h0M821.0 133.5h0M832.8 130.5h0M832.8 136.0h0M837.8 125.0h0M838.0 141.8h0M845.5 133.5h0M854.0 133.5h0M856.0 139.2h0M858.5 127.5h0M859.0 144.8h0M860.2 122.2h0M862.2 133.5h0M866.0 127.5h0M868.0 139.2h0M873.5 130.5h0M874.8 136.0h0M881.5 130.5h0M883.0 136.0h0M883.5 141.8h0M887.2 125.0h0M888.5 127.5h0M889.0 121.8h0M890.2 133.5h0M893.0 141.8h0M894.8 136.0h0M899.8 130.5h0M902.2 133.5h0M904.0 127.5h0M904.8 139.2h0M895.6 136.1h0M900.0 130.5h0M902.5 133.4h0M904.4 127.8h0M904.8 139.0h0M919.8 133.4h0M931.9 133.4h0M932.5 139.0h0M936.9 127.8h0M938.1 133.4h0M941.0 124.9h0M941.2 139.0h0M945.4 133.4h0M949.0 139.0h0M951.2 121.8h0M951.2 127.8h0M951.2 133.4h0M951.2 144.9h0M954.4 130.5h0M955.0 136.1h0M955.6 134.7h0M955.6 131.9h0M955.6 137.5h0M955.6 129.2h0M955.6 140.3h0M955.6 126.4h0M955.6 143.1h0M955.6 123.6h0M955.6 145.8h0M955.6 120.8h0M955.6 148.6h0M955.6 118.0h0M961.2 130.5h0M961.6 136.1h0M975.0 127.8h0M975.0 133.4h0M979.4 139.0h0M982.9 133.4h0M985.2 139.0h0M986.9 127.8h0M990.0 133.4h0M1006.2 121.8h0M994.4 133.9h0M994.4 132.7h0M994.4 135.2h0M994.4 131.5h0M994.4 136.4h0M994.4 130.3h0M994.4 137.6h0M994.4 129.0h0M994.4 138.8h0M994.4 127.8h0M994.4 140.1h0M994.4 126.6h0M994.4 141.3h0M994.4 125.4h0M994.4 142.5h0M994.4 124.2h0M994.4 143.7h0M994.4 122.9h0M994.4 145.0h0M994.4 121.7h0M994.4 146.2h0M994.4 120.5h0M994.4 147.4h0M994.4 119.3h0M994.4 148.6h0M994.4 118.0h0M996.5 134.1h0M996.5 132.5h0M996.5 135.7h0M996.5 130.9h0M996.5 137.4h0M996.5 129.3h0M996.5 139.0h0M996.5 127.7h0M996.5 140.6h0M996.5 126.1h0M996.5 142.2h0M996.5 124.5h0M996.5 143.8h0M996.5 122.9h0M996.5 145.4h0M996.5 121.3h0M996.5 147.0h0M996.5 119.6h0M996.5 148.6h0M996.5 118.0h0M1001.2 133.9h0M1001.2 132.7h0M1001.2 135.2h0M1001.2 131.5h0M1001.2 136.4h0M1001.2 130.3h0M1001.2 137.6h0M1001.2 129.0h0M1001.2 138.8h0M1001.2 127.8h0M1001.2 140.1h0M1001.2 126.6h0M1001.2 141.3h0M1001.2 125.4h0M1001.2 142.5h0M1001.2 124.2h0M1001.2 143.7h0M1001.2 122.9h0M1001.2 145.0h0M1001.2 121.7h0M1001.2 146.2h0M1001.2 120.5h0M1001.2 147.4h0M1001.2 119.3h0M1001.2 148.6h0M1001.2 118.0h0M1003.5 134.1h0M1003.5 132.5h0M1003.5 135.7h0M1003.5 130.9h0M1003.5 137.4h0M1003.5 129.3h0M1003.5 139.0h0M1003.5 127.7h0M1003.5 140.6h0M1003.5 126.1h0M1003.5 142.2h0M1003.5 124.5h0M1003.5 143.8h0M1003.5 122.9h0M1003.5 145.4h0M1003.5 121.3h0M1003.5 147.0h0M1003.5 119.6h0M1003.5 148.6h0M1003.5 118.0h0M452.7 171.3h0M452.7 173.5h0M452.7 175.6h0M452.7 177.8h0M452.7 180.0h0M452.7 182.2h0M452.7 184.4h0M452.7 186.6h0M452.7 188.8h0M452.7 190.9h0M452.7 193.1h0M452.7 195.3h0M452.7 197.5h0M452.7 199.7h0M452.7 201.9h0M454.9 171.3h0M454.9 173.5h0M454.9 175.6h0M454.9 177.8h0M454.9 180.0h0M454.9 182.2h0M454.9 184.4h0M454.9 186.6h0M454.9 188.8h0M454.9 190.9h0M454.9 193.1h0M454.9 195.3h0M454.9 197.5h0M454.9 199.7h0M454.9 201.9h0M457.1 171.3h0M457.1 173.5h0M457.1 175.6h0M457.1 177.8h0M457.1 180.0h0M457.1 182.2h0M457.1 184.4h0M457.1 186.6h0M457.1 188.8h0M457.1 190.9h0M457.1 193.1h0M457.1 195.3h0M457.1 197.5h0M457.1 199.7h0M457.1 201.9h0M459.3 171.3h0M459.3 173.5h0M459.3 175.6h0M459.3 177.8h0M459.3 180.0h0M459.3 182.2h0M459.3 184.4h0M459.3 186.6h0M459.3 188.8h0M459.3 190.9h0M459.3 193.1h0M459.3 195.3h0M459.3 197.5h0M459.3 199.7h0M459.3 201.9h0M461.5 171.3h0M461.5 173.5h0M461.5 175.6h0M461.5 177.8h0M461.5 180.0h0M461.5 182.2h0M461.5 184.4h0M461.5 186.6h0M461.5 188.8h0M461.5 190.9h0M461.5 193.1h0M461.5 195.3h0M461.5 197.5h0M461.5 199.7h0M461.5 201.9h0M463.7 171.3h0M463.7 173.5h0M463.7 175.6h0M463.7 177.8h0M463.7 180.0h0M463.7 182.2h0M463.7 184.4h0M463.7 186.6h0M463.7 188.8h0M463.7 190.9h0M463.7 193.1h0M463.7 195.3h0M463.7 197.5h0M463.7 199.7h0M463.7 201.9h0M465.9 171.3h0M465.9 173.5h0M465.9 175.6h0M465.9 177.8h0M465.9 180.0h0M465.9 182.2h0M465.9 184.4h0M465.9 186.6h0M465.9 188.8h0M465.9 190.9h0M465.9 193.1h0M465.9 195.3h0M465.9 197.5h0M465.9 199.7h0M465.9 201.9h0M468.1 171.3h0M468.1 173.5h0M468.1 175.6h0M468.1 177.8h0M468.1 180.0h0M468.1 182.2h0M468.1 184.4h0M468.1 186.6h0M468.1 188.8h0M468.1 190.9h0M468.1 193.1h0M468.1 195.3h0M468.1 197.5h0M468.1 199.7h0M468.1 201.9h0M470.3 171.3h0M470.3 173.5h0M470.3 175.6h0M470.3 177.8h0M470.3 180.0h0M470.3 182.2h0M470.3 184.4h0M470.3 186.6h0M470.3 188.8h0M470.3 190.9h0M470.3 193.1h0M470.3 195.3h0M470.3 197.5h0M470.3 199.7h0M470.3 201.9h0M472.5 171.3h0M472.5 173.5h0M472.5 175.6h0M472.5 177.8h0M472.5 180.0h0M472.5 182.2h0M472.5 184.4h0M472.5 186.6h0M472.5 188.8h0M472.5 190.9h0M472.5 193.1h0M472.5 195.3h0M472.5 197.5h0M472.5 199.7h0M472.5 201.9h0M474.7 171.3h0M474.7 173.5h0M474.7 175.6h0M474.7 177.8h0M474.7 180.0h0M474.7 182.2h0M474.7 184.4h0M474.7 186.6h0M474.7 188.8h0M474.7 190.9h0M474.7 193.1h0M474.7 195.3h0M474.7 197.5h0M474.7 199.7h0M474.7 201.9h0M476.9 171.3h0M476.9 173.5h0M476.9 175.6h0M476.9 177.8h0M476.9 180.0h0M476.9 182.2h0M476.9 184.4h0M476.9 186.6h0M476.9 188.8h0M476.9 190.9h0M476.9 193.1h0M476.9 195.3h0M476.9 197.5h0M476.9 199.7h0M476.9 201.9h0M479.1 171.3h0M479.1 173.5h0M479.1 175.6h0M479.1 177.8h0M479.1 180.0h0M479.1 182.2h0M479.1 184.4h0M479.1 186.6h0M479.1 188.8h0M479.1 190.9h0M479.1 193.1h0M479.1 195.3h0M479.1 197.5h0M479.1 199.7h0M479.1 201.9h0M481.3 171.3h0M481.3 173.5h0M481.3 175.6h0M481.3 177.8h0M481.3 180.0h0M481.3 182.2h0M481.3 184.4h0M481.3 186.6h0M481.3 188.8h0M481.3 190.9h0M481.3 193.1h0M481.3 195.3h0M481.3 197.5h0M481.3 199.7h0M481.3 201.9h0M483.5 171.3h0M483.5 173.5h0M483.5 175.6h0M483.5 177.8h0M483.5 180.0h0M483.5 182.2h0M483.5 184.4h0M483.5 186.6h0M483.5 188.8h0M483.5 190.9h0M483.5 193.1h0M483.5 195.3h0M483.5 197.5h0M483.5 199.7h0M483.5 201.9h0M485.7 171.3h0M485.7 173.5h0M485.7 175.6h0M485.7 177.8h0M485.7 180.0h0M485.7 182.2h0M485.7 184.4h0M485.7 186.6h0M485.7 188.8h0M485.7 190.9h0M485.7 193.1h0M485.7 195.3h0M485.7 197.5h0M485.7 199.7h0M485.7 201.9h0M487.9 171.3h0M487.9 173.5h0M487.9 175.6h0M487.9 177.8h0M487.9 180.0h0M487.9 182.2h0M487.9 184.4h0M487.9 186.6h0M487.9 188.8h0M487.9 190.9h0M487.9 193.1h0M487.9 195.3h0M487.9 197.5h0M487.9 199.7h0M487.9 201.9h0M490.1 171.3h0M490.1 173.5h0M490.1 175.6h0M490.1 177.8h0M490.1 180.0h0M490.1 182.2h0M490.1 184.4h0M490.1 186.6h0M490.1 188.8h0M490.1 190.9h0M490.1 193.1h0M490.1 195.3h0M490.1 197.5h0M490.1 199.7h0M490.1 201.9h0M493.4 186.6h0M495.1 188.3h0M494.8 184.9h0M495.9 190.0h0M495.5 183.2h0M496.6 191.7h0M497.1 181.5h0M497.8 193.4h0M497.8 179.8h0M499.3 195.1h0M499.3 178.1h0M499.9 196.8h0M500.5 176.4h0M501.3 198.5h0M501.2 174.7h0M502.1 200.2h0M502.3 173.0h0M503.9 201.9h0M503.4 171.3h0M496.6 188.3h0M496.0 184.9h0M497.4 191.7h0M497.9 181.5h0M499.3 195.1h0M499.3 178.1h0M500.1 198.5h0M500.1 174.7h0M501.9 201.9h0M501.6 171.3h0M500.3 187.4h0M500.2 185.8h0M500.7 189.0h0M500.7 184.2h0M501.3 190.6h0M501.4 182.5h0M502.3 192.2h0M501.9 180.9h0M502.9 193.8h0M503.1 179.3h0M503.9 195.4h0M503.4 177.7h0M504.7 197.0h0M504.7 176.1h0M505.0 198.6h0M505.1 174.5h0M505.9 200.3h0M505.8 172.9h0M507.3 201.9h0M506.9 171.3h0M504.1 186.6h0M505.4 189.1h0M505.1 184.0h0M506.0 191.7h0M506.2 181.5h0M506.7 194.2h0M507.0 178.9h0M507.9 196.8h0M507.7 176.4h0M508.9 199.3h0M508.7 173.8h0M509.7 201.9h0M509.6 171.3h0M507.0 187.5h0M507.0 185.7h0M507.0 189.3h0M507.5 183.9h0M507.7 191.1h0M507.6 182.1h0M508.7 192.9h0M508.8 180.3h0M509.6 194.7h0M509.8 178.5h0M510.8 196.5h0M511.3 176.7h0M512.3 198.3h0M512.3 174.9h0M513.8 200.1h0M514.1 173.1h0M515.8 201.9h0M515.5 171.3h0M509.1 186.6h0M510.6 191.7h0M510.9 181.5h0M512.6 196.8h0M512.1 176.4h0M514.7 201.9h0M514.4 171.3h0M513.2 187.5h0M513.5 185.7h0M514.0 189.3h0M513.8 183.9h0M514.5 191.1h0M514.6 182.1h0M515.4 192.9h0M515.4 180.3h0M516.5 194.7h0M516.6 178.5h0M517.4 196.5h0M517.1 176.7h0M518.3 198.3h0M518.4 174.9h0M519.7 200.1h0M519.3 173.1h0M520.5 201.9h0M520.6 171.3h0M515.9 186.6h0M517.7 191.7h0M517.4 181.5h0M519.3 196.8h0M519.3 176.4h0M521.2 201.9h0M521.2 171.3h0M518.9 187.4h0M519.1 185.8h0M519.0 189.0h0M519.0 184.2h0M519.9 190.6h0M519.7 182.5h0M520.0 192.2h0M520.0 180.9h0M520.9 193.8h0M520.7 179.3h0M522.1 195.4h0M521.6 177.7h0M522.7 197.0h0M522.7 176.1h0M523.9 198.6h0M523.8 174.5h0M525.1 200.3h0M525.1 172.9h0M526.1 201.9h0M525.9 171.3h0M522.4 186.6h0M523.5 191.7h0M523.7 181.5h0M525.6 196.8h0M524.9 176.4h0M527.4 201.9h0M527.7 171.3h0M525.7 187.4h0M525.9 185.8h0M526.3 189.0h0M526.4 184.2h0M527.1 190.6h0M527.5 182.5h0M528.0 192.2h0M528.6 180.9h0M529.4 193.8h0M529.4 179.3h0M530.1 195.4h0M530.2 177.7h0M531.4 197.0h0M531.7 176.1h0M532.6 198.6h0M532.4 174.5h0M534.0 200.3h0M533.8 172.9h0M534.9 201.9h0M534.6 171.3h0M530.0 189.4h0M530.3 183.7h0M532.2 195.1h0M532.0 178.0h0M532.3 187.7h0M532.2 185.4h0M533.1 190.1h0M533.1 183.0h0M534.0 192.5h0M534.4 180.7h0M535.3 194.8h0M535.7 178.3h0M537.3 197.2h0M536.7 176.0h0M539.0 199.5h0M538.6 173.6h0M540.4 201.9h0M540.4 171.3h0M539.5 186.6h0M539.5 190.4h0M539.5 182.7h0M539.5 194.2h0M539.5 178.9h0M539.5 198.0h0M539.5 175.1h0M539.5 201.9h0M539.5 171.3h0M547.5 186.6h0M547.9 189.6h0M547.9 183.5h0M548.7 192.7h0M548.7 180.4h0M549.7 195.8h0M549.7 177.4h0M551.0 198.8h0M551.0 174.3h0M552.5 201.9h0M552.5 171.3h0M556.2 186.5h0M560.0 180.8h0M560.8 191.5h0M565.0 177.0h0M564.5 186.5h0M566.8 195.8h0M567.5 172.0h0M567.5 201.5h0M569.2 183.2h0M571.2 189.5h0M573.8 179.5h0M575.0 172.0h0M575.0 193.2h0M575.0 201.5h0M577.5 175.8h0M578.8 186.5h0M579.2 197.0h0M581.2 180.8h0M582.5 191.5h0M583.8 172.0h0M584.2 201.5h0M585.5 177.0h0M588.8 183.2h0M589.5 188.2h0M602.5 172.0h0M601.2 179.0h0M600.0 184.5h0M598.8 189.5h0M602.0 195.0h0M602.5 201.5h0M607.0 180.8h0M607.5 186.5h0M608.0 192.0h0M635.5 174.5h0M635.5 180.8h0M635.5 186.5h0M636.2 192.0h0M639.2 198.2h0M659.2 180.8h0M655.0 186.5h0M655.0 192.0h0M680.8 186.5h0M725.3 186.5h0M758.5 189.5h0M762.5 184.1h0M769.9 186.5h0M783.9 186.5h0M800.7 186.5h0M1000.9 186.5h0M452.7 224.5h0M452.7 226.7h0M452.7 228.9h0M452.7 231.1h0M452.7 233.3h0M452.7 235.4h0M452.7 237.6h0M452.7 239.8h0M452.7 242.0h0M452.7 244.2h0M452.7 246.4h0M452.7 248.6h0M452.7 250.7h0M452.7 252.9h0M452.7 255.1h0M454.9 224.5h0M454.9 226.7h0M454.9 228.9h0M454.9 231.1h0M454.9 233.3h0M454.9 235.4h0M454.9 237.6h0M454.9 239.8h0M454.9 242.0h0M454.9 244.2h0M454.9 246.4h0M454.9 248.6h0M454.9 250.7h0M454.9 252.9h0M454.9 255.1h0M457.1 224.5h0M457.1 226.7h0M457.1 228.9h0M457.1 231.1h0M457.1 233.3h0M457.1 235.4h0M457.1 237.6h0M457.1 239.8h0M457.1 242.0h0M457.1 244.2h0M457.1 246.4h0M457.1 248.6h0M457.1 250.7h0M457.1 252.9h0M457.1 255.1h0M459.3 224.5h0M459.3 226.7h0M459.3 228.9h0M459.3 231.1h0M459.3 233.3h0M459.3 235.4h0M459.3 237.6h0M459.3 239.8h0M459.3 242.0h0M459.3 244.2h0M459.3 246.4h0M459.3 248.6h0M459.3 250.7h0M459.3 252.9h0M459.3 255.1h0M461.5 224.5h0M461.5 226.7h0M461.5 228.9h0M461.5 231.1h0M461.5 233.3h0M461.5 235.4h0M461.5 237.6h0M461.5 239.8h0M461.5 242.0h0M461.5 244.2h0M461.5 246.4h0M461.5 248.6h0M461.5 250.7h0M461.5 252.9h0M461.5 255.1h0M463.7 224.5h0M463.7 226.7h0M463.7 228.9h0M463.7 231.1h0M463.7 233.3h0M463.7 235.4h0M463.7 237.6h0M463.7 239.8h0M463.7 242.0h0M463.7 244.2h0M463.7 246.4h0M463.7 248.6h0M463.7 250.7h0M463.7 252.9h0M463.7 255.1h0M465.9 224.5h0M465.9 226.7h0M465.9 228.9h0M465.9 231.1h0M465.9 233.3h0M465.9 235.4h0M465.9 237.6h0M465.9 239.8h0M465.9 242.0h0M465.9 244.2h0M465.9 246.4h0M465.9 248.6h0M465.9 250.7h0M465.9 252.9h0M465.9 255.1h0M468.1 224.5h0M468.1 226.7h0M468.1 228.9h0M468.1 231.1h0M468.1 233.3h0M468.1 235.4h0M468.1 237.6h0M468.1 239.8h0M468.1 242.0h0M468.1 244.2h0M468.1 246.4h0M468.1 248.6h0M468.1 250.7h0M468.1 252.9h0M468.1 255.1h0M472.5 225.5h0M472.5 229.0h0M472.5 232.5h0M472.5 236.0h0M472.5 239.5h0M472.5 243.0h0M472.5 246.5h0M472.5 250.0h0M472.5 253.5h0M476.0 227.5h0M476.0 231.5h0M476.0 235.5h0M476.0 239.5h0M476.0 243.5h0M476.0 247.5h0M476.0 252.0h0M482.0 237.0h0M483.8 241.2h0M485.0 233.0h0M486.2 245.5h0M489.2 225.0h0M489.2 229.5h0M489.2 233.8h0M489.2 238.8h0M489.2 243.8h0M489.2 248.8h0M489.2 253.8h0M514.2 225.0h0M514.2 227.8h0M514.2 230.5h0M514.2 233.2h0M514.2 246.2h0M514.2 249.0h0M514.2 251.8h0M514.2 254.5h0M513.0 236.0h0M513.0 243.5h0M511.0 238.0h0M511.0 241.5h0M509.0 239.8h0M523.2 239.8h0M544.5 239.8h0M600.5 239.8h0M759.7 239.8h0M452.7 277.8h0M452.7 279.9h0M452.7 282.1h0M452.7 284.3h0M452.7 286.5h0M452.7 288.7h0M452.7 290.9h0M452.7 293.1h0M452.7 295.2h0M452.7 297.4h0M452.7 299.6h0M452.7 301.8h0M452.7 304.0h0M452.7 306.2h0M452.7 308.4h0M454.9 277.8h0M454.9 279.9h0M454.9 282.1h0M454.9 284.3h0M454.9 286.5h0M454.9 288.7h0M454.9 290.9h0M454.9 293.1h0M454.9 295.2h0M454.9 297.4h0M454.9 299.6h0M454.9 301.8h0M454.9 304.0h0M454.9 306.2h0M454.9 308.4h0M457.1 277.8h0M457.1 279.9h0M457.1 282.1h0M457.1 284.3h0M457.1 286.5h0M457.1 288.7h0M457.1 290.9h0M457.1 293.1h0M457.1 295.2h0M457.1 297.4h0M457.1 299.6h0M457.1 301.8h0M457.1 304.0h0M457.1 306.2h0M457.1 308.4h0M459.3 277.8h0M459.3 279.9h0M459.3 282.1h0M459.3 284.3h0M459.3 286.5h0M459.3 288.7h0M459.3 290.9h0M459.3 293.1h0M459.3 295.2h0M459.3 297.4h0M459.3 299.6h0M459.3 301.8h0M459.3 304.0h0M459.3 306.2h0M459.3 308.4h0M461.5 277.8h0M461.5 279.9h0M461.5 282.1h0M461.5 284.3h0M461.5 286.5h0M461.5 288.7h0M461.5 290.9h0M461.5 293.1h0M461.5 295.2h0M461.5 297.4h0M461.5 299.6h0M461.5 301.8h0M461.5 304.0h0M461.5 306.2h0M461.5 308.4h0M465.2 293.1h0M465.7 294.8h0M465.7 291.4h0M466.1 296.4h0M466.1 289.7h0M466.8 298.2h0M467.1 287.9h0M467.7 299.9h0M467.5 286.2h0M468.6 301.6h0M468.7 284.6h0M469.9 303.2h0M469.6 282.9h0M471.2 304.9h0M470.8 281.2h0M472.4 306.7h0M472.4 279.4h0M473.5 308.4h0M473.9 277.8h0M468.0 293.1h0M469.3 298.2h0M469.2 287.9h0M470.7 303.2h0M471.2 282.9h0M473.2 308.4h0M472.9 277.8h0M476.2 293.1h0M476.7 296.9h0M476.7 289.2h0M477.6 300.7h0M477.6 285.4h0M478.8 304.5h0M478.8 281.6h0M480.2 308.4h0M480.2 277.8h0M483.9 294.4h0M483.9 291.7h0M484.4 297.2h0M484.4 288.9h0M485.2 300.0h0M485.2 286.1h0M486.2 302.8h0M486.2 283.3h0M487.4 305.6h0M487.4 280.5h0M488.8 308.4h0M488.8 277.8h0M493.2 293.0h0M506.2 290.0h0M511.8 295.5h0M515.8 292.5h0M530.8 290.0h0M535.5 295.5h0M595.0 293.0h0M645.5 293.0h0M452.7 331.0h0M452.7 333.2h0M452.7 335.4h0M452.7 337.5h0M452.7 339.7h0M452.7 341.9h0M452.7 344.1h0M452.7 346.3h0M452.7 348.5h0M452.7 350.7h0M452.7 352.8h0M452.7 355.0h0M452.7 357.2h0M452.7 359.4h0M452.7 361.6h0M454.9 331.0h0M454.9 333.2h0M454.9 335.4h0M454.9 337.5h0M454.9 339.7h0M454.9 341.9h0M454.9 344.1h0M454.9 346.3h0M454.9 348.5h0M454.9 350.7h0M454.9 352.8h0M454.9 355.0h0M454.9 357.2h0M454.9 359.4h0M454.9 361.6h0M457.1 331.0h0M457.1 333.2h0M457.1 335.4h0M457.1 337.5h0M457.1 339.7h0M457.1 341.9h0M457.1 344.1h0M457.1 346.3h0M457.1 348.5h0M457.1 350.7h0M457.1 352.8h0M457.1 355.0h0M457.1 357.2h0M457.1 359.4h0M457.1 361.6h0M459.3 331.0h0M459.3 333.2h0M459.3 335.4h0M459.3 337.5h0M459.3 339.7h0M459.3 341.9h0M459.3 344.1h0M459.3 346.3h0M459.3 348.5h0M459.3 350.7h0M459.3 352.8h0M459.3 355.0h0M459.3 357.2h0M459.3 359.4h0M459.3 361.6h0M461.5 331.0h0M461.5 333.2h0M461.5 335.4h0M461.5 337.5h0M461.5 339.7h0M461.5 341.9h0M461.5 344.1h0M461.5 346.3h0M461.5 348.5h0M461.5 350.7h0M461.5 352.8h0M461.5 355.0h0M461.5 357.2h0M461.5 359.4h0M461.5 361.6h0M467.5 346.3h0M467.5 348.8h0M467.5 343.7h0M467.5 351.4h0M467.5 341.2h0M467.5 353.9h0M467.5 338.6h0M467.5 356.5h0M467.5 336.1h0M467.5 359.0h0M467.5 333.5h0M467.5 361.6h0M467.5 331.0h0M472.0 346.3h0M472.0 349.4h0M472.0 343.2h0M472.0 352.4h0M472.0 340.2h0M472.0 355.5h0M472.0 337.1h0M472.0 358.5h0M472.0 334.1h0M472.0 361.6h0M472.0 331.0h0M475.5 346.3h0M475.9 350.1h0M475.9 342.5h0M476.8 353.9h0M476.8 338.6h0M478.0 357.8h0M478.0 334.8h0M479.5 361.6h0M479.5 331.0h0M482.0 347.3h0M482.1 345.3h0M482.4 349.4h0M482.8 343.2h0M483.5 351.4h0M483.3 341.2h0M484.9 353.4h0M484.7 339.2h0M486.3 355.5h0M486.2 337.1h0M487.5 357.5h0M487.8 335.1h0M489.7 359.6h0M489.4 333.0h0M491.3 361.6h0M491.5 331.0h0M486.5 349.1h0M486.7 343.4h0M488.8 354.8h0M488.7 337.7h0M491.2 339.8h0M492.5 343.5h0M491.2 351.0h0M496.8 346.0h0M497.0 351.5h0M502.0 339.8h0M507.5 346.3h0M507.5 348.5h0M507.5 344.1h0M507.5 350.7h0M507.5 341.9h0M507.5 352.8h0M507.5 339.7h0M507.5 355.0h0M507.5 337.5h0M507.5 357.2h0M507.5 335.4h0M507.5 359.4h0M507.5 333.2h0M507.5 361.6h0M507.5 331.0h0M513.8 346.3h0M513.8 350.1h0M513.8 342.5h0M513.8 353.9h0M513.8 338.6h0M513.8 357.8h0M513.8 334.8h0M513.8 361.6h0M513.8 331.0h0M527.0 340.5h0M527.0 346.2h0M527.0 352.0h0M533.8 346.2h0M544.5 346.2h0M452.7 384.2h0M452.7 386.4h0M452.7 388.6h0M452.7 390.8h0M452.7 393.0h0M452.7 395.2h0M452.7 397.3h0M452.7 399.5h0M452.7 401.7h0M452.7 403.9h0M452.7 406.1h0M452.7 408.3h0M452.7 410.5h0M452.7 412.6h0M452.7 414.8h0M454.9 384.2h0M454.9 386.4h0M454.9 388.6h0M454.9 390.8h0M454.9 393.0h0M454.9 395.2h0M454.9 397.3h0M454.9 399.5h0M454.9 401.7h0M454.9 403.9h0M454.9 406.1h0M454.9 408.3h0M454.9 410.5h0M454.9 412.6h0M454.9 414.8h0M457.1 384.2h0M457.1 386.4h0M457.1 388.6h0M457.1 390.8h0M457.1 393.0h0M457.1 395.2h0M457.1 397.3h0M457.1 399.5h0M457.1 401.7h0M457.1 403.9h0M457.1 406.1h0M457.1 408.3h0M457.1 410.5h0M457.1 412.6h0M457.1 414.8h0M459.3 384.2h0M459.3 386.4h0M459.3 388.6h0M459.3 390.8h0M459.3 393.0h0M459.3 395.2h0M459.3 397.3h0M459.3 399.5h0M459.3 401.7h0M459.3 403.9h0M459.3 406.1h0M459.3 408.3h0M459.3 410.5h0M459.3 412.6h0M459.3 414.8h0M461.5 384.2h0M461.5 386.4h0M461.5 388.6h0M461.5 390.8h0M461.5 393.0h0M461.5 395.2h0M461.5 397.3h0M461.5 399.5h0M461.5 401.7h0M461.5 403.9h0M461.5 406.1h0M461.5 408.3h0M461.5 410.5h0M461.5 412.6h0M461.5 414.8h0M463.7 384.2h0M463.7 386.4h0M463.7 388.6h0M463.7 390.8h0M463.7 393.0h0M463.7 395.2h0M463.7 397.3h0M463.7 399.5h0M463.7 401.7h0M463.7 403.9h0M463.7 406.1h0M463.7 408.3h0M463.7 410.5h0M463.7 412.6h0M463.7 414.8h0M465.9 384.2h0M465.9 386.4h0M465.9 388.6h0M465.9 390.8h0M465.9 393.0h0M465.9 395.2h0M465.9 397.3h0M465.9 399.5h0M465.9 401.7h0M465.9 403.9h0M465.9 406.1h0M465.9 408.3h0M465.9 410.5h0M465.9 412.6h0M465.9 414.8h0M468.1 384.2h0M468.1 386.4h0M468.1 388.6h0M468.1 390.8h0M468.1 393.0h0M468.1 395.2h0M468.1 397.3h0M468.1 399.5h0M468.1 401.7h0M468.1 403.9h0M468.1 406.1h0M468.1 408.3h0M468.1 410.5h0M468.1 412.6h0M468.1 414.8h0M470.3 384.2h0M470.3 386.4h0M470.3 388.6h0M470.3 390.8h0M470.3 393.0h0M470.3 395.2h0M470.3 397.3h0M470.3 399.5h0M470.3 401.7h0M470.3 403.9h0M470.3 406.1h0M470.3 408.3h0M470.3 410.5h0M470.3 412.6h0M470.3 414.8h0M472.5 384.2h0M472.5 386.4h0M472.5 388.6h0M472.5 390.8h0M472.5 393.0h0M472.5 395.2h0M472.5 397.3h0M472.5 399.5h0M472.5 401.7h0M472.5 403.9h0M472.5 406.1h0M472.5 408.3h0M472.5 410.5h0M472.5 412.6h0M472.5 414.8h0M474.7 384.2h0M474.7 386.4h0M474.7 388.6h0M474.7 390.8h0M474.7 393.0h0M474.7 395.2h0M474.7 397.3h0M474.7 399.5h0M474.7 401.7h0M474.7 403.9h0M474.7 406.1h0M474.7 408.3h0M474.7 410.5h0M474.7 412.6h0M474.7 414.8h0M476.9 384.2h0M476.9 386.4h0M476.9 388.6h0M476.9 390.8h0M476.9 393.0h0M476.9 395.2h0M476.9 397.3h0M476.9 399.5h0M476.9 401.7h0M476.9 403.9h0M476.9 406.1h0M476.9 408.3h0M476.9 410.5h0M476.9 412.6h0M476.9 414.8h0M480.6 399.5h0M481.1 401.1h0M481.0 398.0h0M481.4 402.6h0M481.1 396.5h0M481.4 404.1h0M481.9 394.9h0M482.6 405.7h0M482.3 393.4h0M483.2 407.2h0M483.2 391.9h0M483.9 408.7h0M484.2 390.4h0M485.1 410.2h0M485.0 388.8h0M485.9 411.8h0M486.2 387.3h0M487.2 413.3h0M487.4 385.8h0M488.3 414.8h0M488.4 384.2h0M483.3 401.2h0M483.6 397.8h0M484.5 404.6h0M484.7 394.4h0M486.0 408.0h0M486.0 391.0h0M488.0 411.4h0M488.3 387.6h0M490.2 414.8h0M490.0 384.2h0M489.9 399.5h0M491.4 401.7h0M491.0 397.3h0M492.1 403.9h0M491.9 395.2h0M493.5 406.1h0M493.0 393.0h0M494.5 408.3h0M494.4 390.8h0M495.4 410.5h0M495.4 388.6h0M497.2 412.6h0M497.1 386.4h0M498.4 414.8h0M498.5 384.2h0M494.9 402.4h0M494.5 396.7h0M497.7 408.1h0M498.0 391.0h0M499.0 400.9h0M499.2 398.1h0M500.5 403.7h0M500.8 395.4h0M502.1 406.5h0M502.0 392.6h0M503.5 409.3h0M503.4 389.8h0M505.1 412.0h0M504.7 387.0h0M506.3 414.8h0M506.4 384.2h0M506.2 399.5h0M506.8 403.4h0M506.8 395.7h0M507.9 407.2h0M507.9 391.9h0M509.4 411.0h0M509.4 388.1h0M511.2 414.8h0M511.2 384.2h0M522.5 387.5h0M521.2 393.8h0M519.5 399.5h0M521.2 405.0h0M522.5 411.2h0M526.2 399.5h0M528.8 393.8h0M528.8 405.0h0M555.0 393.8h0M552.5 399.5h0M558.0 405.0h0M563.8 399.5h0M580.0 399.5h0M586.2 399.5h0M748.4 401.5h0M752.9 396.5h0M904.3 399.5h0M452.7 437.5h0M452.7 439.7h0M452.7 441.8h0M452.7 444.0h0M452.7 446.2h0M452.7 448.4h0M452.7 450.6h0M452.7 452.8h0M452.7 455.0h0M452.7 457.1h0M452.7 459.3h0M452.7 461.5h0M452.7 463.7h0M452.7 465.9h0M452.7 468.1h0M454.9 437.5h0M454.9 439.7h0M454.9 441.8h0M454.9 444.0h0M454.9 446.2h0M454.9 448.4h0M454.9 450.6h0M454.9 452.8h0M454.9 455.0h0M454.9 457.1h0M454.9 459.3h0M454.9 461.5h0M454.9 463.7h0M454.9 465.9h0M454.9 468.1h0M457.1 437.5h0M457.1 439.7h0M457.1 441.8h0M457.1 444.0h0M457.1 446.2h0M457.1 448.4h0M457.1 450.6h0M457.1 452.8h0M457.1 455.0h0M457.1 457.1h0M457.1 459.3h0M457.1 461.5h0M457.1 463.7h0M457.1 465.9h0M457.1 468.1h0M459.3 437.5h0M459.3 439.7h0M459.3 441.8h0M459.3 444.0h0M459.3 446.2h0M459.3 448.4h0M459.3 450.6h0M459.3 452.8h0M459.3 455.0h0M459.3 457.1h0M459.3 459.3h0M459.3 461.5h0M459.3 463.7h0M459.3 465.9h0M459.3 468.1h0M463.5 452.8h0M463.7 454.7h0M464.0 450.9h0M464.6 456.6h0M464.5 448.9h0M465.1 458.5h0M464.8 447.0h0M466.1 460.4h0M466.3 445.1h0M467.4 462.3h0M466.9 443.2h0M468.1 464.2h0M468.6 441.3h0M469.7 466.2h0M469.5 439.4h0M471.0 468.1h0M470.6 437.5h0M467.4 452.8h0M468.3 457.9h0M468.3 447.7h0M470.4 463.0h0M470.5 442.6h0M472.1 468.1h0M472.0 437.5h0M471.1 452.8h0M471.4 454.5h0M471.7 451.1h0M471.9 456.2h0M472.1 449.4h0M473.2 457.9h0M472.8 447.7h0M473.6 459.6h0M474.0 446.0h0M474.8 461.3h0M475.3 444.3h0M475.7 463.0h0M476.1 442.6h0M476.9 464.7h0M477.2 440.9h0M478.0 466.4h0M478.2 439.2h0M479.1 468.1h0M479.0 437.5h0M474.1 455.6h0M474.1 449.9h0M476.0 461.3h0M475.8 444.2h0M476.2 453.6h0M476.2 452.0h0M477.0 455.2h0M476.9 450.4h0M477.8 456.8h0M477.6 448.7h0M478.8 458.4h0M478.7 447.1h0M479.6 460.0h0M479.7 445.5h0M480.5 461.6h0M480.4 443.9h0M481.4 463.2h0M481.2 442.3h0M482.9 464.8h0M482.6 440.7h0M483.5 466.5h0M484.1 439.1h0M485.1 468.1h0M485.1 437.5h0M479.7 452.8h0M480.4 457.9h0M480.6 447.7h0M482.8 463.0h0M482.1 442.6h0M484.4 468.1h0M484.4 437.5h0M483.4 453.6h0M483.9 452.0h0M485.0 455.2h0M485.0 450.4h0M485.3 456.8h0M485.8 448.7h0M486.4 458.4h0M486.5 447.1h0M487.2 460.0h0M487.2 445.5h0M488.0 461.6h0M488.3 443.9h0M488.8 463.2h0M489.4 442.3h0M489.5 464.8h0M490.2 440.7h0M490.4 466.5h0M490.4 439.1h0M491.6 468.1h0M491.5 437.5h0M486.9 455.6h0M486.5 449.9h0M488.6 461.3h0M488.5 444.2h0M490.4 452.8h0M491.0 455.0h0M490.9 450.6h0M491.5 457.1h0M491.6 448.4h0M492.6 459.3h0M492.2 446.2h0M493.5 461.5h0M493.8 444.0h0M494.7 463.7h0M494.8 441.8h0M496.0 465.9h0M496.1 439.7h0M497.7 468.1h0M497.8 437.5h0M494.0 455.6h0M494.1 449.9h0M495.4 461.3h0M495.6 444.2h0M495.5 452.8h0M496.5 455.3h0M496.8 450.2h0M497.8 457.9h0M498.2 447.7h0M499.2 460.4h0M499.1 445.1h0M500.4 463.0h0M500.1 442.6h0M501.9 465.5h0M501.9 440.0h0M503.0 468.1h0M503.2 437.5h0M503.2 452.8h0M503.7 456.6h0M503.7 448.9h0M504.6 460.4h0M504.6 445.1h0M505.8 464.2h0M505.8 441.3h0M507.2 468.1h0M507.2 437.5h0M510.0 452.8h0M510.4 456.6h0M510.4 448.9h0M511.3 460.4h0M511.3 445.1h0M512.5 464.2h0M512.5 441.3h0M514.0 468.1h0M514.0 437.5h0M517.5 455.0h0M517.5 450.6h0M517.5 459.3h0M517.5 446.2h0M517.5 463.7h0M517.5 441.8h0M517.5 468.1h0M517.5 437.5h0M521.2 455.0h0M521.2 450.6h0M521.2 459.3h0M521.2 446.2h0M521.2 463.7h0M521.2 441.8h0M521.2 468.1h0M521.2 437.5h0M526.2 455.6h0M526.2 449.9h0M526.2 461.3h0M526.2 444.2h0M526.2 467.0h0M526.2 438.5h0M532.5 452.8h0M532.5 456.6h0M532.5 448.9h0M532.5 460.4h0M532.5 445.1h0M532.5 464.2h0M532.5 441.3h0M532.5 468.1h0M532.5 437.5h0M537.5 452.8h0M545.0 452.8h0M545.0 457.9h0M545.0 447.7h0M545.0 463.0h0M545.0 442.6h0M545.0 468.1h0M545.0 437.5h0M553.0 452.8h0M553.0 457.9h0M553.0 447.7h0M553.0 463.0h0M553.0 442.6h0M553.0 468.1h0M553.0 437.5h0M566.2 452.8h0M573.0 452.8h0M573.4 455.8h0M573.4 449.7h0M574.2 458.9h0M574.2 446.7h0M575.2 462.0h0M575.2 443.6h0M576.5 465.0h0M576.5 440.5h0M578.0 468.1h0M578.0 437.5h0M587.5 440.5h0M587.5 446.8h0M587.5 452.5h0M587.5 458.0h0M592.5 464.2h0M614.2 452.8h0M452.7 490.7h0M452.7 492.9h0M452.7 495.1h0M452.7 497.3h0M452.7 499.5h0M452.7 501.6h0M452.7 503.8h0M452.7 506.0h0M452.7 508.2h0M452.7 510.4h0M452.7 512.6h0M452.7 514.8h0M452.7 516.9h0M452.7 519.1h0M452.7 521.3h0M454.9 490.7h0M454.9 492.9h0M454.9 495.1h0M454.9 497.3h0M454.9 499.5h0M454.9 501.6h0M454.9 503.8h0M454.9 506.0h0M454.9 508.2h0M454.9 510.4h0M454.9 512.6h0M454.9 514.8h0M454.9 516.9h0M454.9 519.1h0M454.9 521.3h0M457.1 490.7h0M457.1 492.9h0M457.1 495.1h0M457.1 497.3h0M457.1 499.5h0M457.1 501.6h0M457.1 503.8h0M457.1 506.0h0M457.1 508.2h0M457.1 510.4h0M457.1 512.6h0M457.1 514.8h0M457.1 516.9h0M457.1 519.1h0M457.1 521.3h0M459.3 490.7h0M459.3 492.9h0M459.3 495.1h0M459.3 497.3h0M459.3 499.5h0M459.3 501.6h0M459.3 503.8h0M459.3 506.0h0M459.3 508.2h0M459.3 510.4h0M459.3 512.6h0M459.3 514.8h0M459.3 516.9h0M459.3 519.1h0M459.3 521.3h0M461.5 490.7h0M461.5 492.9h0M461.5 495.1h0M461.5 497.3h0M461.5 499.5h0M461.5 501.6h0M461.5 503.8h0M461.5 506.0h0M461.5 508.2h0M461.5 510.4h0M461.5 512.6h0M461.5 514.8h0M461.5 516.9h0M461.5 519.1h0M461.5 521.3h0M463.7 490.7h0M463.7 492.9h0M463.7 495.1h0M463.7 497.3h0M463.7 499.5h0M463.7 501.6h0M463.7 503.8h0M463.7 506.0h0M463.7 508.2h0M463.7 510.4h0M463.7 512.6h0M463.7 514.8h0M463.7 516.9h0M463.7 519.1h0M463.7 521.3h0M467.0 507.4h0M467.1 504.6h0M468.2 510.2h0M467.7 501.8h0M469.3 513.0h0M469.1 499.1h0M470.2 515.7h0M470.3 496.3h0M471.4 518.5h0M471.3 493.5h0M472.6 521.3h0M472.8 490.7h0M471.5 496.0h0M471.5 501.0h0M471.5 506.0h0M471.5 511.0h0M471.5 516.0h0M476.2 492.2h0M476.2 496.5h0M476.2 500.5h0M476.2 504.8h0M476.2 508.5h0M476.2 512.2h0M476.2 516.0h0M476.2 520.5h0M484.2 506.0h0M484.4 508.6h0M484.4 503.5h0M484.8 511.1h0M484.8 500.9h0M485.2 513.7h0M485.2 498.4h0M485.8 516.2h0M485.8 495.8h0M486.5 518.8h0M486.5 493.3h0M487.2 521.3h0M487.2 490.7h0M493.0 507.4h0M493.0 504.6h0M493.0 510.2h0M493.0 501.8h0M493.0 513.0h0M493.0 499.1h0M493.0 515.7h0M493.0 496.3h0M493.0 518.5h0M493.0 493.5h0M493.0 521.3h0M493.0 490.7h0M497.5 503.0h0M501.2 508.0h0M496.8 520.5h0M518.2 497.2h0M518.2 502.2h0M518.2 506.0h0M518.2 509.8h0M518.2 514.2h0M530.0 505.5h0M535.5 505.5h0M547.0 503.0h0M552.0 508.5h0M560.0 505.5h0M590.0 505.5h0M452.7 544.0h0M452.7 546.1h0M452.7 548.3h0M452.7 550.5h0M452.7 552.7h0M452.7 554.9h0M452.7 557.1h0M452.7 559.2h0M452.7 561.4h0M452.7 563.6h0M452.7 565.8h0M452.7 568.0h0M452.7 570.2h0M452.7 572.4h0M452.7 574.6h0M454.9 544.0h0M454.9 546.1h0M454.9 548.3h0M454.9 550.5h0M454.9 552.7h0M454.9 554.9h0M454.9 557.1h0M454.9 559.2h0M454.9 561.4h0M454.9 563.6h0M454.9 565.8h0M454.9 568.0h0M454.9 570.2h0M454.9 572.4h0M454.9 574.6h0M459.4 560.0h0M459.6 558.5h0M459.3 561.4h0M459.8 557.1h0M460.3 562.9h0M459.7 555.6h0M460.6 564.4h0M460.8 554.1h0M461.0 565.8h0M461.4 552.7h0M462.2 567.3h0M461.9 551.2h0M462.5 568.7h0M462.5 549.8h0M463.9 570.2h0M463.6 548.3h0M464.5 571.6h0M464.6 546.9h0M466.0 573.1h0M465.5 545.4h0M466.5 574.5h0M467.1 544.0h0M462.7 559.2h0M463.6 564.4h0M463.5 554.1h0M465.8 569.5h0M465.3 549.0h0M467.2 574.5h0M467.7 544.0h0M464.9 560.1h0M464.9 558.4h0M465.4 561.7h0M465.5 556.8h0M466.1 563.3h0M466.5 555.2h0M467.4 564.9h0M467.3 553.6h0M468.2 566.5h0M467.7 552.0h0M468.7 568.1h0M468.6 550.4h0M469.5 569.7h0M470.1 548.8h0M470.9 571.3h0M470.9 547.2h0M471.6 572.9h0M471.3 545.6h0M472.5 574.5h0M472.2 544.0h0M467.9 562.1h0M468.4 556.4h0M469.5 567.8h0M470.0 550.7h0M471.0 560.1h0M471.3 558.4h0M471.5 561.7h0M471.3 556.8h0M471.7 563.3h0M472.0 555.2h0M472.2 564.9h0M472.8 553.6h0M473.2 566.5h0M473.0 552.0h0M474.0 568.1h0M473.8 550.4h0M474.9 569.7h0M475.1 548.8h0M476.0 571.3h0M476.0 547.2h0M477.1 572.9h0M477.2 545.6h0M478.6 574.5h0M478.4 544.0h0M474.2 559.2h0M475.2 564.4h0M475.6 554.1h0M477.1 569.5h0M477.1 549.0h0M479.5 574.5h0M479.7 544.0h0M477.6 559.2h0M478.8 561.2h0M478.8 557.3h0M479.9 563.1h0M480.0 555.4h0M480.7 565.0h0M481.2 553.5h0M481.6 566.9h0M482.1 551.6h0M482.6 568.8h0M483.1 549.7h0M483.6 570.7h0M483.5 547.8h0M484.8 572.6h0M485.0 545.9h0M485.9 574.5h0M485.9 544.0h0M480.3 562.1h0M480.1 556.4h0M482.2 567.8h0M482.0 550.7h0M484.4 559.2h0M484.4 560.8h0M485.0 557.7h0M485.0 562.3h0M485.0 556.2h0M486.3 563.8h0M486.0 554.7h0M487.1 565.4h0M486.7 553.1h0M487.8 566.9h0M488.2 551.6h0M488.8 568.4h0M489.1 550.1h0M490.6 570.0h0M490.1 548.5h0M491.7 571.5h0M491.8 547.0h0M493.0 573.0h0M493.1 545.5h0M494.5 574.5h0M494.0 544.0h0M488.0 559.2h0M489.0 564.4h0M489.3 554.1h0M490.7 569.5h0M491.2 549.0h0M492.6 574.5h0M492.7 544.0h0M490.5 559.2h0M490.5 561.4h0M490.5 557.1h0M490.5 563.6h0M490.5 554.9h0M490.5 565.8h0M490.5 552.7h0M490.5 568.0h0M490.5 550.5h0M490.5 570.2h0M490.5 548.3h0M490.5 572.4h0M490.5 546.1h0M490.5 574.5h0M490.5 544.0h0M496.3 560.3h0M496.3 558.2h0M496.9 562.3h0M497.4 556.2h0M498.0 564.4h0M497.9 554.1h0M499.2 566.4h0M499.3 552.1h0M500.4 568.4h0M500.4 550.1h0M502.2 570.5h0M502.2 548.0h0M503.6 572.5h0M503.4 546.0h0M505.8 574.5h0M505.7 544.0h0M500.2 562.1h0M499.8 556.4h0M501.4 567.8h0M501.3 550.7h0M503.8 559.2h0M504.5 563.1h0M504.5 555.4h0M506.1 566.9h0M506.1 551.6h0M508.2 570.7h0M508.2 547.8h0M510.8 574.5h0M510.8 544.0h0M510.5 554.0h0M510.5 557.0h0M510.5 560.0h0M510.5 563.0h0M510.5 566.0h0M515.8 572.8h0M530.5 559.2h0M530.5 561.8h0M530.5 556.7h0M530.5 564.4h0M530.5 554.1h0M530.5 566.9h0M530.5 551.6h0M530.5 569.5h0M530.5 549.0h0M530.5 572.0h0M530.5 546.5h0M530.5 574.5h0M530.5 544.0h0M533.0 559.2h0M548.2 547.2h0M548.2 552.0h0M548.2 556.8h0M548.2 561.5h0M548.2 566.2h0M548.2 571.0h0M564.5 559.2h0M564.5 561.8h0M564.5 556.7h0M564.5 564.4h0M564.5 554.1h0M564.5 566.9h0M564.5 551.6h0M564.5 569.5h0M564.5 549.0h0M564.5 572.0h0M564.5 546.5h0M564.5 574.5h0M564.5 544.0h0M578.8 560.4h0M578.8 558.1h0M578.8 562.8h0M578.8 555.7h0M578.8 565.1h0M578.8 553.4h0M578.8 567.5h0M578.8 551.0h0M578.8 569.8h0M578.8 548.7h0M578.8 572.2h0M578.8 546.3h0M578.8 574.5h0M578.8 544.0h0M575.8 559.2h0M601.2 559.2h0M601.4 561.8h0M601.4 556.7h0M601.8 564.4h0M601.8 554.1h0M602.2 566.9h0M602.2 551.6h0M602.8 569.5h0M602.8 549.0h0M603.5 572.0h0M603.5 546.5h0M604.2 574.5h0M604.2 544.0h0M608.8 559.2h0M608.9 561.8h0M608.9 556.7h0M609.3 564.4h0M609.3 554.1h0M609.7 566.9h0M609.7 551.6h0M610.3 569.5h0M610.3 549.0h0M611.0 572.0h0M611.0 546.5h0M611.8 574.5h0M611.8 544.0h0M606.2 573.5h0M620.8 559.0h0M635.5 559.2h0M635.5 561.8h0M635.5 556.7h0M635.5 564.4h0M635.5 554.1h0M635.5 566.9h0M635.5 551.6h0M635.5 569.5h0M635.5 549.0h0M635.5 572.0h0M635.5 546.5h0M635.5 574.5h0M635.5 544.0h0M452.7 597.2h0M452.7 599.4h0M452.7 601.6h0M452.7 603.7h0M452.7 605.9h0M452.7 608.1h0M452.7 610.3h0M452.7 612.5h0M452.7 614.7h0M452.7 616.9h0M452.7 619.0h0M452.7 621.2h0M452.7 623.4h0M452.7 625.6h0M452.7 627.8h0M454.9 597.2h0M454.9 599.4h0M454.9 601.6h0M454.9 603.7h0M454.9 605.9h0M454.9 608.1h0M454.9 610.3h0M454.9 612.5h0M454.9 614.7h0M454.9 616.9h0M454.9 619.0h0M454.9 621.2h0M454.9 623.4h0M454.9 625.6h0M454.9 627.8h0M457.1 597.2h0M457.1 599.4h0M457.1 601.6h0M457.1 603.7h0M457.1 605.9h0M457.1 608.1h0M457.1 610.3h0M457.1 612.5h0M457.1 614.7h0M457.1 616.9h0M457.1 619.0h0M457.1 621.2h0M457.1 623.4h0M457.1 625.6h0M457.1 627.8h0M459.3 597.2h0M459.3 599.4h0M459.3 601.6h0M459.3 603.7h0M459.3 605.9h0M459.3 608.1h0M459.3 610.3h0M459.3 612.5h0M459.3 614.7h0M459.3 616.9h0M459.3 619.0h0M459.3 621.2h0M459.3 623.4h0M459.3 625.6h0M459.3 627.8h0M461.5 597.2h0M461.5 599.4h0M461.5 601.6h0M461.5 603.7h0M461.5 605.9h0M461.5 608.1h0M461.5 610.3h0M461.5 612.5h0M461.5 614.7h0M461.5 616.9h0M461.5 619.0h0M461.5 621.2h0M461.5 623.4h0M461.5 625.6h0M461.5 627.8h0M463.7 597.2h0M463.7 599.4h0M463.7 601.6h0M463.7 603.7h0M463.7 605.9h0M463.7 608.1h0M463.7 610.3h0M463.7 612.5h0M463.7 614.7h0M463.7 616.9h0M463.7 619.0h0M463.7 621.2h0M463.7 623.4h0M463.7 625.6h0M463.7 627.8h0M465.9 597.2h0M465.9 599.4h0M465.9 601.6h0M465.9 603.7h0M465.9 605.9h0M465.9 608.1h0M465.9 610.3h0M465.9 612.5h0M465.9 614.7h0M465.9 616.9h0M465.9 619.0h0M465.9 621.2h0M465.9 623.4h0M465.9 625.6h0M465.9 627.8h0M468.1 597.2h0M468.1 599.4h0M468.1 601.6h0M468.1 603.7h0M468.1 605.9h0M468.1 608.1h0M468.1 610.3h0M468.1 612.5h0M468.1 614.7h0M468.1 616.9h0M468.1 619.0h0M468.1 621.2h0M468.1 623.4h0M468.1 625.6h0M468.1 627.8h0M470.3 597.2h0M470.3 599.4h0M470.3 601.6h0M470.3 603.7h0M470.3 605.9h0M470.3 608.1h0M470.3 610.3h0M470.3 612.5h0M470.3 614.7h0M470.3 616.9h0M470.3 619.0h0M470.3 621.2h0M470.3 623.4h0M470.3 625.6h0M470.3 627.8h0M474.0 613.2h0M474.2 611.8h0M474.4 614.7h0M474.4 610.3h0M474.7 616.1h0M474.8 608.8h0M475.3 617.6h0M475.5 607.4h0M475.8 619.0h0M476.2 605.9h0M476.6 620.5h0M477.0 604.5h0M477.3 622.0h0M477.6 603.0h0M478.6 623.4h0M478.8 601.6h0M479.5 624.9h0M479.5 600.1h0M480.6 626.3h0M480.9 598.6h0M482.1 627.8h0M481.7 597.2h0M477.2 614.2h0M477.0 610.8h0M478.1 617.6h0M478.2 607.4h0M479.4 621.0h0M478.9 604.0h0M480.9 624.4h0M481.0 600.6h0M482.7 627.8h0M483.3 597.2h0M480.4 613.4h0M480.2 611.6h0M480.7 615.2h0M480.5 609.8h0M481.7 617.0h0M481.6 608.0h0M482.7 618.8h0M482.5 606.2h0M483.4 620.6h0M483.4 604.4h0M484.6 622.4h0M484.6 602.6h0M486.4 624.2h0M486.2 600.8h0M487.3 626.0h0M487.6 599.0h0M489.0 627.8h0M488.6 597.2h0M483.2 612.5h0M483.5 617.6h0M483.6 607.4h0M485.4 622.7h0M485.8 602.3h0M488.0 627.8h0M487.9 597.2h0M485.9 614.2h0M485.9 610.8h0M486.4 617.6h0M486.4 607.4h0M487.3 621.0h0M487.3 604.0h0M488.4 624.4h0M488.4 600.6h0M489.8 627.8h0M489.8 597.2h0M490.5 612.5h0M490.5 616.3h0M490.5 608.7h0M490.5 620.1h0M490.5 604.8h0M490.5 624.0h0M490.5 601.0h0M490.5 627.8h0M490.5 597.2h0M498.8 615.0h0M501.2 609.2h0M503.0 623.0h0M504.5 604.2h0M505.0 617.5h0M506.2 598.0h0M507.5 612.5h0M509.2 606.8h0M510.0 620.5h0M511.2 600.5h0M512.0 615.5h0M512.5 624.2h0M514.5 610.0h0M515.8 604.2h0M516.2 619.2h0M518.8 613.0h0M520.0 598.0h0M520.0 626.8h0M521.2 606.8h0M523.0 612.5h0M523.3 615.5h0M523.3 609.4h0M523.9 618.6h0M523.9 606.4h0M524.8 621.7h0M524.8 603.3h0M525.8 624.7h0M525.8 600.2h0M527.0 627.8h0M527.0 597.2h0M538.0 612.5h0M538.0 615.0h0M538.0 609.9h0M538.0 617.6h0M538.0 607.4h0M538.0 620.1h0M538.0 604.8h0M538.0 622.7h0M538.0 602.3h0M538.0 625.2h0M538.0 599.7h0M538.0 627.8h0M538.0 597.2h0M541.2 612.5h0M557.5 612.5h0M566.8 612.5h0M566.9 615.0h0M566.9 609.9h0M567.3 617.6h0M567.3 607.4h0M567.7 620.1h0M567.7 604.8h0M568.3 622.7h0M568.3 602.3h0M569.0 625.2h0M569.0 599.7h0M569.8 627.8h0M569.8 597.2h0M572.0 628.0h0M590.0 604.2h0M590.0 609.2h0M590.0 613.0h0M590.0 616.8h0M590.0 621.2h0M615.0 610.0h0M615.0 615.0h0M452.7 650.4h0M452.7 652.6h0M452.7 654.8h0M452.7 657.0h0M452.7 659.2h0M452.7 661.4h0M452.7 663.5h0M452.7 665.7h0M452.7 667.9h0M452.7 670.1h0M452.7 672.3h0M452.7 674.5h0M452.7 676.7h0M452.7 678.8h0M452.7 681.0h0M454.9 650.4h0M454.9 652.6h0M454.9 654.8h0M454.9 657.0h0M454.9 659.2h0M454.9 661.4h0M454.9 663.5h0M454.9 665.7h0M454.9 667.9h0M454.9 670.1h0M454.9 672.3h0M454.9 674.5h0M454.9 676.7h0M454.9 678.8h0M454.9 681.0h0M457.1 650.4h0M457.1 652.6h0M457.1 654.8h0M457.1 657.0h0M457.1 659.2h0M457.1 661.4h0M457.1 663.5h0M457.1 665.7h0M457.1 667.9h0M457.1 670.1h0M457.1 672.3h0M457.1 674.5h0M457.1 676.7h0M457.1 678.8h0M457.1 681.0h0M459.3 650.4h0M459.3 652.6h0M459.3 654.8h0M459.3 657.0h0M459.3 659.2h0M459.3 661.4h0M459.3 663.5h0M459.3 665.7h0M459.3 667.9h0M459.3 670.1h0M459.3 672.3h0M459.3 674.5h0M459.3 676.7h0M459.3 678.8h0M459.3 681.0h0M461.5 650.4h0M461.5 652.6h0M461.5 654.8h0M461.5 657.0h0M461.5 659.2h0M461.5 661.4h0M461.5 663.5h0M461.5 665.7h0M461.5 667.9h0M461.5 670.1h0M461.5 672.3h0M461.5 674.5h0M461.5 676.7h0M461.5 678.8h0M461.5 681.0h0M467.7 666.5h0M467.8 664.9h0M468.7 668.1h0M468.6 663.3h0M469.8 669.8h0M469.3 661.7h0M470.3 671.4h0M470.2 660.1h0M471.2 673.0h0M471.6 658.5h0M472.1 674.6h0M472.5 656.9h0M473.2 676.2h0M473.5 655.3h0M474.4 677.8h0M474.3 653.7h0M475.4 679.4h0M474.8 652.0h0M475.9 681.0h0M475.9 650.4h0M469.9 665.7h0M470.3 668.8h0M470.1 662.7h0M471.4 671.9h0M471.5 659.6h0M473.2 674.9h0M472.9 656.6h0M474.8 678.0h0M475.0 653.5h0M477.0 681.0h0M477.4 650.4h0M473.0 666.6h0M473.4 664.8h0M474.2 668.4h0M474.0 663.0h0M475.2 670.2h0M475.2 661.2h0M475.7 672.0h0M476.2 659.4h0M477.2 673.8h0M477.3 657.6h0M478.1 675.6h0M477.9 655.8h0M478.8 677.4h0M479.1 654.0h0M479.8 679.2h0M480.2 652.2h0M481.1 681.0h0M481.3 650.4h0M476.0 668.6h0M475.8 662.9h0M477.4 674.3h0M477.5 657.2h0M480.0 665.7h0M480.4 668.8h0M480.4 662.7h0M481.2 671.9h0M481.2 659.6h0M482.2 674.9h0M482.2 656.6h0M483.5 678.0h0M483.5 653.5h0M485.0 681.0h0M485.0 650.4h0M485.0 665.7h0M485.0 669.6h0M485.0 661.9h0M485.0 673.4h0M485.0 658.1h0M485.0 677.2h0M485.0 654.3h0M485.0 681.0h0M485.0 650.4h0M491.8 653.5h0M491.2 659.8h0M490.8 671.0h0M493.8 677.2h0M496.2 657.2h0M495.0 663.0h0M495.0 668.0h0M498.0 673.5h0M504.5 657.2h0M502.5 662.2h0M502.5 668.0h0M504.2 673.5h0M509.2 665.5h0M531.8 665.5h0M545.5 659.8h0M542.5 665.5h0M542.5 671.0h0M553.8 665.5h0M570.0 665.5h0M616.5 665.5h0M685.0 665.5h0M845.6 665.7h0M452.7 703.7h0M452.7 705.9h0M452.7 708.0h0M452.7 710.2h0M452.7 712.4h0M452.7 714.6h0M452.7 716.8h0M452.7 719.0h0M452.7 721.2h0M452.7 723.3h0M452.7 725.5h0M452.7 727.7h0M452.7 729.9h0M452.7 732.1h0M452.7 734.3h0M454.9 703.7h0M454.9 705.9h0M454.9 708.0h0M454.9 710.2h0M454.9 712.4h0M454.9 714.6h0M454.9 716.8h0M454.9 719.0h0M454.9 721.2h0M454.9 723.3h0M454.9 725.5h0M454.9 727.7h0M454.9 729.9h0M454.9 732.1h0M454.9 734.3h0M457.1 703.7h0M457.1 705.9h0M457.1 708.0h0M457.1 710.2h0M457.1 712.4h0M457.1 714.6h0M457.1 716.8h0M457.1 719.0h0M457.1 721.2h0M457.1 723.3h0M457.1 725.5h0M457.1 727.7h0M457.1 729.9h0M457.1 732.1h0M457.1 734.3h0M459.3 703.7h0M459.3 705.9h0M459.3 708.0h0M459.3 710.2h0M459.3 712.4h0M459.3 714.6h0M459.3 716.8h0M459.3 719.0h0M459.3 721.2h0M459.3 723.3h0M459.3 725.5h0M459.3 727.7h0M459.3 729.9h0M459.3 732.1h0M459.3 734.3h0M461.5 703.7h0M461.5 705.9h0M461.5 708.0h0M461.5 710.2h0M461.5 712.4h0M461.5 714.6h0M461.5 716.8h0M461.5 719.0h0M461.5 721.2h0M461.5 723.3h0M461.5 725.5h0M461.5 727.7h0M461.5 729.9h0M461.5 732.1h0M461.5 734.3h0M463.7 703.7h0M463.7 705.9h0M463.7 708.0h0M463.7 710.2h0M463.7 712.4h0M463.7 714.6h0M463.7 716.8h0M463.7 719.0h0M463.7 721.2h0M463.7 723.3h0M463.7 725.5h0M463.7 727.7h0M463.7 729.9h0M463.7 732.1h0M463.7 734.3h0M467.6 719.7h0M467.5 718.2h0M467.8 721.2h0M467.8 716.8h0M468.9 722.6h0M468.9 715.3h0M469.6 724.1h0M469.3 713.9h0M470.5 725.5h0M470.3 712.4h0M471.1 727.0h0M471.2 711.0h0M472.0 728.4h0M472.1 709.5h0M473.0 729.9h0M473.2 708.0h0M473.5 731.4h0M473.8 706.6h0M475.0 732.8h0M474.8 705.1h0M475.6 734.3h0M475.8 703.7h0M470.0 720.7h0M470.2 717.3h0M471.2 724.1h0M471.5 713.9h0M473.1 727.5h0M473.6 710.5h0M475.6 730.9h0M475.3 707.1h0M477.9 734.3h0M477.6 703.7h0M472.3 720.0h0M472.8 718.0h0M472.9 722.0h0M473.3 715.9h0M474.2 724.1h0M473.9 713.9h0M475.4 726.1h0M475.7 711.8h0M476.9 728.1h0M476.7 709.8h0M478.6 730.2h0M478.3 707.8h0M480.4 732.2h0M480.1 705.7h0M481.7 734.3h0M482.3 703.7h0M476.3 721.8h0M475.9 716.1h0M478.0 727.5h0M478.3 710.4h0M478.8 720.7h0M478.8 717.3h0M478.8 724.1h0M478.8 713.9h0M478.8 727.5h0M478.8 710.5h0M478.8 730.9h0M478.8 707.1h0M478.8 734.3h0M478.8 703.7h0M482.5 719.0h0M482.5 722.8h0M482.5 715.1h0M482.5 726.6h0M482.5 711.3h0M482.5 730.4h0M482.5 707.5h0M482.5 734.3h0M482.5 703.7h0M486.2 719.0h0M486.2 724.1h0M486.2 713.9h0M486.2 729.2h0M486.2 708.8h0M486.2 734.3h0M486.2 703.7h0M493.0 719.0h0M493.0 721.5h0M493.0 716.4h0M493.0 724.1h0M493.0 713.9h0M493.0 726.6h0M493.0 711.3h0M493.0 729.2h0M493.0 708.8h0M493.0 731.7h0M493.0 706.2h0M493.0 734.3h0M493.0 703.7h0M498.0 734.0h0M488.8 720.2h0M503.8 719.0h0M504.0 721.5h0M504.0 716.4h0M504.4 724.1h0M504.4 713.9h0M505.1 726.6h0M505.1 711.3h0M505.8 729.2h0M505.8 708.8h0M506.7 731.7h0M506.7 706.2h0M507.8 734.3h0M507.8 703.7h0M518.2 704.0h0M518.2 708.5h0M517.5 712.8h0M513.8 719.0h0M513.8 725.2h0M518.2 729.0h0M518.2 733.5h0M519.5 716.5h0M522.5 720.2h0M531.2 719.0h0M531.2 722.8h0M531.2 715.1h0M531.2 726.6h0M531.2 711.3h0M531.2 730.4h0M531.2 707.5h0M531.2 734.3h0M531.2 703.7h0M527.5 719.0h0M547.5 718.5h0M555.0 712.8h0M555.0 719.0h0M557.5 724.0h0M575.0 704.0h0M574.5 708.5h0M571.2 712.8h0M569.5 716.5h0M569.5 721.0h0M570.8 725.2h0M573.8 729.5h0M575.0 733.5h0M582.0 718.5h0M600.0 718.5h0M645.0 710.2h0M645.0 715.2h0M645.0 719.0h0M645.0 722.8h0M645.0 727.2h0M452.7 756.9h0M452.7 759.1h0M452.7 761.3h0M452.7 763.5h0M452.7 765.7h0M452.7 767.8h0M452.7 770.0h0M452.7 772.2h0M452.7 774.4h0M452.7 776.6h0M452.7 778.8h0M452.7 781.0h0M452.7 783.1h0M452.7 785.3h0M452.7 787.5h0M454.9 756.9h0M454.9 759.1h0M454.9 761.3h0M454.9 763.5h0M454.9 765.7h0M454.9 767.8h0M454.9 770.0h0M454.9 772.2h0M454.9 774.4h0M454.9 776.6h0M454.9 778.8h0M454.9 781.0h0M454.9 783.1h0M454.9 785.3h0M454.9 787.5h0M457.1 756.9h0M457.1 759.1h0M457.1 761.3h0M457.1 763.5h0M457.1 765.7h0M457.1 767.8h0M457.1 770.0h0M457.1 772.2h0M457.1 774.4h0M457.1 776.6h0M457.1 778.8h0M457.1 781.0h0M457.1 783.1h0M457.1 785.3h0M457.1 787.5h0M459.3 756.9h0M459.3 759.1h0M459.3 761.3h0M459.3 763.5h0M459.3 765.7h0M459.3 767.8h0M459.3 770.0h0M459.3 772.2h0M459.3 774.4h0M459.3 776.6h0M459.3 778.8h0M459.3 781.0h0M459.3 783.1h0M459.3 785.3h0M459.3 787.5h0M461.5 756.9h0M461.5 759.1h0M461.5 761.3h0M461.5 763.5h0M461.5 765.7h0M461.5 767.8h0M461.5 770.0h0M461.5 772.2h0M461.5 774.4h0M461.5 776.6h0M461.5 778.8h0M461.5 781.0h0M461.5 783.1h0M461.5 785.3h0M461.5 787.5h0M463.7 756.9h0M463.7 759.1h0M463.7 761.3h0M463.7 763.5h0M463.7 765.7h0M463.7 767.8h0M463.7 770.0h0M463.7 772.2h0M463.7 774.4h0M463.7 776.6h0M463.7 778.8h0M463.7 781.0h0M463.7 783.1h0M463.7 785.3h0M463.7 787.5h0M465.9 756.9h0M465.9 759.1h0M465.9 761.3h0M465.9 763.5h0M465.9 765.7h0M465.9 767.8h0M465.9 770.0h0M465.9 772.2h0M465.9 774.4h0M465.9 776.6h0M465.9 778.8h0M465.9 781.0h0M465.9 783.1h0M465.9 785.3h0M465.9 787.5h0M470.3 773.0h0M470.1 771.4h0M470.6 774.6h0M471.0 769.8h0M471.6 776.2h0M470.9 768.2h0M471.9 777.8h0M471.9 766.6h0M473.2 779.5h0M472.8 765.0h0M473.8 781.1h0M474.3 763.4h0M475.0 782.7h0M475.6 761.7h0M476.5 784.3h0M476.8 760.1h0M478.1 785.9h0M477.7 758.5h0M479.6 787.5h0M479.3 756.9h0M473.8 773.9h0M474.2 770.5h0M474.6 777.3h0M474.8 767.1h0M475.8 780.7h0M476.0 763.7h0M477.9 784.1h0M477.6 760.3h0M479.1 787.5h0M479.2 756.9h0M477.2 773.2h0M477.3 771.2h0M478.3 775.3h0M478.1 769.2h0M479.5 777.3h0M479.8 767.1h0M480.7 779.4h0M480.8 765.1h0M482.5 781.4h0M482.6 763.0h0M483.8 783.4h0M483.8 761.0h0M484.8 785.5h0M485.0 759.0h0M486.1 787.5h0M486.0 756.9h0M479.0 775.1h0M479.1 769.4h0M481.1 780.8h0M480.9 763.7h0M481.2 772.2h0M481.9 776.0h0M481.9 768.4h0M483.2 779.9h0M483.2 764.6h0M485.0 783.7h0M485.0 760.7h0M487.2 787.5h0M487.2 756.9h0M487.5 769.0h0M488.0 774.5h0M492.5 772.0h0M497.5 772.2h0M497.5 775.3h0M497.5 769.2h0M497.5 778.3h0M497.5 766.1h0M497.5 781.4h0M497.5 763.0h0M497.5 784.5h0M497.5 760.0h0M497.5 787.5h0M497.5 756.9h0M501.2 773.9h0M501.2 770.5h0M501.2 777.3h0M501.2 767.1h0M501.2 780.7h0M501.2 763.7h0M501.2 784.1h0M501.2 760.3h0M501.2 787.5h0M501.2 756.9h0M506.2 772.0h0M510.0 772.2h0M510.0 774.4h0M510.0 770.0h0M510.0 776.6h0M510.0 767.8h0M510.0 778.8h0M510.0 765.7h0M510.0 781.0h0M510.0 763.5h0M510.0 783.1h0M510.0 761.3h0M510.0 785.3h0M510.0 759.1h0M510.0 787.5h0M510.0 756.9h0M519.5 769.0h0M522.5 774.0h0M526.2 771.5h0M531.2 765.8h0M531.2 777.5h0M568.8 772.0h0M589.5 772.0h0M650.5 772.0h0M660.5 772.0h0M692.5 772.0h0M708.8 772.2h0M452.7 810.2h0M452.7 812.3h0M452.7 814.5h0M452.7 816.7h0M452.7 818.9h0M452.7 821.1h0M452.7 823.3h0M452.7 825.5h0M452.7 827.6h0M452.7 829.8h0M452.7 832.0h0M452.7 834.2h0M452.7 836.4h0M452.7 838.6h0M452.7 840.8h0M454.9 810.2h0M454.9 812.3h0M454.9 814.5h0M454.9 816.7h0M454.9 818.9h0M454.9 821.1h0M454.9 823.3h0M454.9 825.5h0M454.9 827.6h0M454.9 829.8h0M454.9 832.0h0M454.9 834.2h0M454.9 836.4h0M454.9 838.6h0M454.9 840.8h0M457.1 810.2h0M457.1 812.3h0M457.1 814.5h0M457.1 816.7h0M457.1 818.9h0M457.1 821.1h0M457.1 823.3h0M457.1 825.5h0M457.1 827.6h0M457.1 829.8h0M457.1 832.0h0M457.1 834.2h0M457.1 836.4h0M457.1 838.6h0M457.1 840.8h0M459.3 810.2h0M459.3 812.3h0M459.3 814.5h0M459.3 816.7h0M459.3 818.9h0M459.3 821.1h0M459.3 823.3h0M459.3 825.5h0M459.3 827.6h0M459.3 829.8h0M459.3 832.0h0M459.3 834.2h0M459.3 836.4h0M459.3 838.6h0M459.3 840.8h0M461.5 810.2h0M461.5 812.3h0M461.5 814.5h0M461.5 816.7h0M461.5 818.9h0M461.5 821.1h0M461.5 823.3h0M461.5 825.5h0M461.5 827.6h0M461.5 829.8h0M461.5 832.0h0M461.5 834.2h0M461.5 836.4h0M461.5 838.6h0M461.5 840.8h0M463.7 810.2h0M463.7 812.3h0M463.7 814.5h0M463.7 816.7h0M463.7 818.9h0M463.7 821.1h0M463.7 823.3h0M463.7 825.5h0M463.7 827.6h0M463.7 829.8h0M463.7 832.0h0M463.7 834.2h0M463.7 836.4h0M463.7 838.6h0M463.7 840.8h0M465.9 810.2h0M465.9 812.3h0M465.9 814.5h0M465.9 816.7h0M465.9 818.9h0M465.9 821.1h0M465.9 823.3h0M465.9 825.5h0M465.9 827.6h0M465.9 829.8h0M465.9 832.0h0M465.9 834.2h0M465.9 836.4h0M465.9 838.6h0M465.9 840.8h0M468.1 810.2h0M468.1 812.3h0M468.1 814.5h0M468.1 816.7h0M468.1 818.9h0M468.1 821.1h0M468.1 823.3h0M468.1 825.5h0M468.1 827.6h0M468.1 829.8h0M468.1 832.0h0M468.1 834.2h0M468.1 836.4h0M468.1 838.6h0M468.1 840.8h0M470.3 810.2h0M470.3 812.3h0M470.3 814.5h0M470.3 816.7h0M470.3 818.9h0M470.3 821.1h0M470.3 823.3h0M470.3 825.5h0M470.3 827.6h0M470.3 829.8h0M470.3 832.0h0M470.3 834.2h0M470.3 836.4h0M470.3 838.6h0M470.3 840.8h0M472.3 825.5h0M472.6 827.0h0M472.1 823.9h0M472.5 828.5h0M473.0 822.4h0M473.7 830.0h0M473.6 820.9h0M474.1 831.6h0M474.2 819.3h0M474.8 833.1h0M474.9 817.8h0M476.0 834.6h0M476.3 816.3h0M477.0 836.2h0M477.5 814.7h0M478.2 837.7h0M478.8 813.2h0M479.7 839.2h0M480.1 811.7h0M481.5 840.8h0M481.6 810.2h0M476.9 825.5h0M478.7 828.5h0M478.5 822.4h0M479.6 831.6h0M480.2 819.3h0M481.3 834.6h0M481.1 816.3h0M482.9 837.7h0M482.8 813.2h0M484.6 840.8h0M484.9 810.2h0M479.1 826.3h0M479.0 824.6h0M479.4 827.9h0M479.7 823.0h0M480.1 829.5h0M480.5 821.4h0M481.0 831.1h0M481.2 819.8h0M482.1 832.7h0M482.2 818.2h0M482.9 834.3h0M483.0 816.6h0M484.5 835.9h0M484.2 815.0h0M485.8 837.5h0M486.0 813.4h0M487.1 839.1h0M487.5 811.8h0M488.7 840.8h0M489.0 810.2h0M483.5 825.5h0M484.3 830.6h0M484.5 820.4h0M486.3 835.7h0M486.2 815.2h0M488.5 840.8h0M488.6 810.2h0M484.8 826.6h0M485.0 824.3h0M485.5 829.0h0M485.7 821.9h0M487.4 831.3h0M487.0 819.6h0M488.5 833.7h0M488.4 817.2h0M489.5 836.0h0M489.5 814.9h0M490.9 838.4h0M491.2 812.5h0M492.1 840.8h0M492.3 810.2h0M491.2 825.0h0M493.8 830.5h0M495.0 812.5h0M495.0 836.2h0M496.2 818.8h0M497.5 840.0h0M498.8 822.5h0M499.5 828.0h0M501.2 816.2h0M503.0 832.5h0M505.0 810.0h0M504.5 825.0h0M505.8 837.5h0M507.5 819.5h0M508.8 813.8h0M508.8 829.5h0M510.5 840.0h0M511.2 823.0h0M512.0 810.0h0M512.5 835.0h0M513.8 817.0h0M513.8 827.0h0M515.5 831.2h0M516.8 821.2h0M517.5 812.5h0M517.5 838.8h0M518.8 810.0h0M523.0 822.5h0M522.5 828.0h0M525.5 833.8h0M527.5 817.0h0M530.0 819.5h0M531.8 813.8h0M531.2 828.0h0M533.0 833.8h0M535.5 825.0h0M541.2 825.0h0M545.0 830.5h0M546.2 819.5h0M558.8 825.0h0M562.5 819.5h0M563.2 831.2h0M567.5 822.0h0M570.8 827.5h0M581.8 825.0h0M590.0 825.0h0M593.8 819.5h0M593.8 830.5h0M597.5 825.0h0M610.0 825.0h0M636.8 825.0h0M643.8 825.0h0M650.5 828.0h0M652.0 822.5h0M672.5 822.5h0M672.5 828.0h0M686.2 819.5h0M685.8 825.0h0M689.2 830.5h0M697.5 825.0h0M703.8 828.0h0M708.0 822.5h0M716.0 825.0h0M754.2 825.0h0M773.0 825.0h0M776.2 819.5h0M775.8 831.0h0M818.2 822.5h0M817.2 828.0h0M858.0 825.0h0M452.7 863.4h0M452.7 865.6h0M452.7 867.8h0M452.7 869.9h0M452.7 872.1h0M452.7 874.3h0M452.7 876.5h0M452.7 878.7h0M452.7 880.9h0M452.7 883.1h0M452.7 885.2h0M452.7 887.4h0M452.7 889.6h0M452.7 891.8h0M452.7 894.0h0M454.9 863.4h0M454.9 865.6h0M454.9 867.8h0M454.9 869.9h0M454.9 872.1h0M454.9 874.3h0M454.9 876.5h0M454.9 878.7h0M454.9 880.9h0M454.9 883.1h0M454.9 885.2h0M454.9 887.4h0M454.9 889.6h0M454.9 891.8h0M454.9 894.0h0M457.1 863.4h0M457.1 865.6h0M457.1 867.8h0M457.1 869.9h0M457.1 872.1h0M457.1 874.3h0M457.1 876.5h0M457.1 878.7h0M457.1 880.9h0M457.1 883.1h0M457.1 885.2h0M457.1 887.4h0M457.1 889.6h0M457.1 891.8h0M457.1 894.0h0M459.3 863.4h0M459.3 865.6h0M459.3 867.8h0M459.3 869.9h0M459.3 872.1h0M459.3 874.3h0M459.3 876.5h0M459.3 878.7h0M459.3 880.9h0M459.3 883.1h0M459.3 885.2h0M459.3 887.4h0M459.3 889.6h0M459.3 891.8h0M459.3 894.0h0M461.5 863.4h0M461.5 865.6h0M461.5 867.8h0M461.5 869.9h0M461.5 872.1h0M461.5 874.3h0M461.5 876.5h0M461.5 878.7h0M461.5 880.9h0M461.5 883.1h0M461.5 885.2h0M461.5 887.4h0M461.5 889.6h0M461.5 891.8h0M461.5 894.0h0M466.2 879.4h0M466.8 878.0h0M466.9 880.9h0M466.7 876.5h0M467.4 882.3h0M467.1 875.0h0M467.9 883.8h0M468.3 873.6h0M469.0 885.2h0M469.1 872.1h0M469.5 886.7h0M469.4 870.7h0M470.6 888.2h0M470.7 869.2h0M471.8 889.6h0M471.5 867.8h0M473.0 891.1h0M472.8 866.3h0M473.8 892.5h0M474.1 864.8h0M474.9 894.0h0M475.2 863.4h0M469.4 880.4h0M469.3 877.0h0M470.7 883.8h0M470.6 873.6h0M471.4 887.2h0M471.3 870.2h0M473.4 890.6h0M473.0 866.8h0M474.4 894.0h0M474.4 863.4h0M471.3 880.1h0M471.3 877.3h0M471.8 882.9h0M471.8 874.5h0M472.4 885.6h0M472.4 871.7h0M473.2 888.4h0M473.2 869.0h0M474.2 891.2h0M474.2 866.2h0M475.2 894.0h0M475.2 863.4h0M475.6 880.1h0M475.6 877.3h0M476.0 882.9h0M476.0 874.5h0M476.6 885.6h0M476.6 871.7h0M477.4 888.4h0M477.4 869.0h0M478.4 891.2h0M478.4 866.2h0M479.5 894.0h0M479.5 863.4h0M486.2 866.5h0M483.8 872.8h0M482.0 878.5h0M483.8 884.0h0M488.0 890.2h0M491.8 878.5h0M497.5 878.5h0M503.0 878.5h0M508.0 878.5h0M513.2 878.5h0M535.5 876.0h0M535.5 881.0h0M575.8 878.5h0M840.6 867.3h0M840.6 873.0h0M840.6 878.7h0M840.6 884.4h0M840.6 890.1h0M453.4 916.6h0M453.4 918.8h0M453.4 921.0h0M453.4 923.2h0M453.4 925.4h0M453.4 927.6h0M453.4 929.7h0M453.4 931.9h0M453.4 934.1h0M453.4 936.3h0M453.4 938.5h0M453.4 940.7h0M453.4 942.9h0M453.4 945.0h0M453.4 947.2h0M455.6 916.6h0M455.6 918.8h0M455.6 921.0h0M455.6 923.2h0M455.6 925.4h0M455.6 927.6h0M455.6 929.7h0M455.6 931.9h0M455.6 934.1h0M455.6 936.3h0M455.6 938.5h0M455.6 940.7h0M455.6 942.9h0M455.6 945.0h0M455.6 947.2h0M457.8 916.6h0M457.8 918.8h0M457.8 921.0h0M457.8 923.2h0M457.8 925.4h0M457.8 927.6h0M457.8 929.7h0M457.8 931.9h0M457.8 934.1h0M457.8 936.3h0M457.8 938.5h0M457.8 940.7h0M457.8 942.9h0M457.8 945.0h0M457.8 947.2h0M460.0 916.6h0M460.0 918.8h0M460.0 921.0h0M460.0 923.2h0M460.0 925.4h0M460.0 927.6h0M460.0 929.7h0M460.0 931.9h0M460.0 934.1h0M460.0 936.3h0M460.0 938.5h0M460.0 940.7h0M460.0 942.9h0M460.0 945.0h0M460.0 947.2h0M463.6 931.9h0M464.2 933.6h0M464.1 930.2h0M464.5 935.3h0M464.5 928.5h0M465.0 937.0h0M465.3 926.8h0M466.1 938.7h0M466.1 925.1h0M467.0 940.4h0M467.2 923.4h0M467.8 942.1h0M468.2 921.7h0M469.5 943.8h0M468.8 920.0h0M470.2 945.5h0M470.7 918.3h0M471.3 947.2h0M471.9 916.6h0M467.0 931.9h0M467.2 935.0h0M467.6 928.9h0M468.6 938.1h0M468.1 925.8h0M469.5 941.1h0M469.3 922.8h0M471.1 944.2h0M470.6 919.7h0M472.2 947.2h0M472.2 916.6h0M470.0 931.9h0M470.9 933.6h0M470.5 930.2h0M471.3 935.3h0M471.5 928.5h0M471.9 937.0h0M471.9 926.8h0M473.2 938.7h0M472.8 925.1h0M474.2 940.4h0M474.1 923.4h0M474.8 942.1h0M474.8 921.7h0M475.6 943.8h0M476.2 920.0h0M476.9 945.5h0M476.8 918.3h0M477.8 947.2h0M477.9 916.6h0M474.2 931.9h0M474.7 934.5h0M474.7 929.4h0M475.3 937.0h0M475.8 926.8h0M476.8 939.6h0M476.6 924.3h0M477.4 942.1h0M477.9 921.7h0M478.6 944.7h0M478.6 919.2h0M480.2 947.2h0M480.3 916.6h0M476.2 931.9h0M476.2 934.1h0M476.2 929.7h0M476.2 936.3h0M476.2 927.6h0M476.2 938.5h0M476.2 925.4h0M476.2 940.7h0M476.2 923.2h0M476.2 942.9h0M476.2 921.0h0M476.2 945.0h0M476.2 918.8h0M476.2 947.2h0M476.2 916.6h0M482.5 929.0h0M482.5 934.5h0M485.5 931.9h0M486.0 935.0h0M486.0 928.9h0M486.9 938.1h0M486.9 925.8h0M488.1 941.1h0M488.1 922.8h0M489.7 944.2h0M489.7 919.7h0M491.5 947.2h0M491.5 916.6h0M491.2 931.9h0M491.6 935.0h0M491.6 928.9h0M492.4 938.1h0M492.4 925.8h0M493.5 941.1h0M493.5 922.8h0M494.7 944.2h0M494.7 919.7h0M496.2 947.2h0M496.2 916.6h0M503.0 931.5h0M505.8 937.0h0M508.8 925.8h0M511.2 934.0h0M512.5 929.0h0M513.8 923.2h0M513.0 939.5h0M515.0 945.8h0M517.0 917.0h0M520.8 931.9h0M521.2 935.0h0M521.2 928.9h0M522.1 938.1h0M522.1 925.8h0M523.4 941.1h0M523.4 922.8h0M524.9 944.2h0M524.9 919.7h0M526.8 947.2h0M526.8 916.6h0M526.2 924.5h0M526.2 932.0h0M527.5 937.0h0M531.2 943.2h0M568.0 929.0h0M573.8 934.0h0M578.8 937.5h0M581.2 929.0h0M591.2 931.5h0M620.0 929.0h0M620.0 934.5h0M728.6 931.9h0M960.3 931.9h0M452.6 986.2h0M452.6 984.2h0M452.9 988.2h0M452.9 982.1h0M453.4 990.3h0M453.4 980.1h0M454.0 992.3h0M454.0 978.0h0M454.7 994.4h0M454.7 976.0h0M455.5 996.4h0M455.5 974.0h0M456.5 998.4h0M456.5 971.9h0M457.5 1000.5h0M457.5 969.9h0M455.1 986.6h0M455.1 983.8h0M455.6 989.3h0M455.6 981.0h0M456.4 992.1h0M456.4 978.2h0M457.4 994.9h0M457.4 975.4h0M458.6 997.7h0M458.6 972.7h0M460.0 1000.5h0M460.0 969.9h0M460.0 985.2h0M460.3 987.7h0M460.3 982.6h0M460.9 990.3h0M460.9 980.1h0M461.6 992.8h0M461.6 977.5h0M462.6 995.4h0M462.6 975.0h0M463.7 997.9h0M463.7 972.4h0M465.0 1000.5h0M465.0 969.9h0M466.2 985.2h0M466.5 987.7h0M466.5 982.6h0M467.1 990.3h0M467.1 980.1h0M467.9 992.8h0M467.9 977.5h0M468.9 995.4h0M468.9 975.0h0M470.0 997.9h0M470.0 972.4h0M471.2 1000.5h0M471.2 969.9h0M472.5 985.2h0M472.8 987.7h0M472.8 982.6h0M473.4 990.3h0M473.4 980.1h0M474.1 992.8h0M474.1 977.5h0M475.1 995.4h0M475.1 975.0h0M476.2 997.9h0M476.2 972.4h0M477.5 1000.5h0M477.5 969.9h0M478.8 985.2h0M479.0 987.7h0M479.0 982.6h0M479.6 990.3h0M479.6 980.1h0M480.4 992.8h0M480.4 977.5h0M481.4 995.4h0M481.4 975.0h0M482.5 997.9h0M482.5 972.4h0M483.8 1000.5h0M483.8 969.9h0M485.1 986.2h0M485.1 984.2h0M485.4 988.2h0M485.4 982.1h0M485.9 990.3h0M485.9 980.1h0M486.5 992.3h0M486.5 978.0h0M487.2 994.4h0M487.2 976.0h0M488.0 996.4h0M488.0 974.0h0M489.0 998.4h0M489.0 971.9h0M490.0 1000.5h0M490.0 969.9h0M487.6 986.6h0M487.6 983.8h0M488.1 989.3h0M488.1 981.0h0M488.9 992.1h0M488.9 978.2h0M489.9 994.9h0M489.9 975.4h0M491.1 997.7h0M491.1 972.7h0M492.5 1000.5h0M492.5 969.9h0M491.3 986.3h0M491.3 984.0h0M491.7 988.7h0M491.7 981.6h0M492.3 991.1h0M492.3 979.3h0M493.1 993.4h0M493.1 976.9h0M494.0 995.8h0M494.0 974.6h0M495.1 998.1h0M495.1 972.2h0M496.2 1000.5h0M496.2 969.9h0M497.5 985.2h0M497.8 987.7h0M497.8 982.6h0M498.4 990.3h0M498.4 980.1h0M499.1 992.8h0M499.1 977.5h0M500.1 995.4h0M500.1 975.0h0M501.2 997.9h0M501.2 972.4h0M502.5 1000.5h0M502.5 969.9h0M503.8 985.2h0M504.0 987.7h0M504.0 982.6h0M504.6 990.3h0M504.6 980.1h0M505.4 992.8h0M505.4 977.5h0M506.4 995.4h0M506.4 975.0h0M507.5 997.9h0M507.5 972.4h0M508.8 1000.5h0M508.8 969.9h0M506.9 986.9h0M506.9 983.5h0M507.6 990.3h0M507.6 980.1h0M508.7 993.7h0M508.7 976.7h0M510.1 997.1h0M510.1 973.3h0M511.8 1000.5h0M511.8 969.9h0M510.1 986.6h0M510.1 983.8h0M510.6 989.3h0M510.6 981.0h0M511.4 992.1h0M511.4 978.2h0M512.4 994.9h0M512.4 975.4h0M513.6 997.7h0M513.6 972.7h0M515.0 1000.5h0M515.0 969.9h0M515.1 986.9h0M515.1 983.5h0M515.9 990.3h0M515.9 980.1h0M517.0 993.7h0M517.0 976.7h0M518.3 997.1h0M518.3 973.3h0M520.0 1000.5h0M520.0 969.9h0M520.0 973.8h0M520.0 979.5h0M520.0 985.0h0M520.0 990.5h0M520.0 996.2h0M525.2 972.5h0M525.2 978.8h0M525.2 985.0h0M525.2 991.2h0M531.2 970.0h0M530.8 975.0h0M532.5 981.2h0M533.0 986.2h0M531.2 992.5h0M530.8 999.5h0M535.5 985.2h0M535.9 989.0h0M535.9 981.3h0M536.8 992.8h0M536.8 977.5h0M538.0 996.6h0M538.0 973.7h0M539.5 1000.5h0M539.5 969.9h0M540.5 985.2h0M540.9 989.0h0M540.9 981.3h0M541.8 992.8h0M541.8 977.5h0M543.0 996.6h0M543.0 973.7h0M544.5 1000.5h0M544.5 969.9h0M545.5 1000.0h0M547.0 976.2h0M547.0 982.0h0M547.0 987.0h0M551.2 992.5h0M558.0 982.0h0M558.0 987.5h0M558.8 992.5h0M561.2 976.2h0M575.5 985.2h0M575.5 987.7h0M575.5 982.6h0M575.5 990.3h0M575.5 980.1h0M575.5 992.8h0M575.5 977.5h0M575.5 995.4h0M575.5 975.0h0M575.5 997.9h0M575.5 972.4h0M575.5 1000.5h0M575.5 969.9h0M572.0 985.0h0M581.2 985.0h0M597.5 982.0h0M603.0 984.5h0M603.0 988.0h0M612.0 982.0h0M612.0 987.5h0M627.0 976.2h0M627.0 981.2h0M627.0 985.0h0M627.0 988.8h0M627.0 993.2h0M636.2 982.5h0M636.2 987.5h0M655.8 985.0h0M678.8 985.0h0M715.0 985.2h0M721.8 985.2h0M452.8 1023.1h0M452.8 1025.3h0M452.8 1027.5h0M452.8 1029.7h0M452.8 1031.9h0M452.8 1034.0h0M452.8 1036.2h0M452.8 1038.4h0M452.8 1040.6h0M452.8 1042.8h0M452.8 1045.0h0M452.8 1047.2h0M452.8 1049.3h0M452.8 1051.5h0M452.8 1053.7h0M455.0 1023.1h0M455.0 1025.3h0M455.0 1027.5h0M455.0 1029.7h0M455.0 1031.9h0M455.0 1034.0h0M455.0 1036.2h0M455.0 1038.4h0M455.0 1040.6h0M455.0 1042.8h0M455.0 1045.0h0M455.0 1047.2h0M455.0 1049.3h0M455.0 1051.5h0M455.0 1053.7h0M457.2 1023.1h0M457.2 1025.3h0M457.2 1027.5h0M457.2 1029.7h0M457.2 1031.9h0M457.2 1034.0h0M457.2 1036.2h0M457.2 1038.4h0M457.2 1040.6h0M457.2 1042.8h0M457.2 1045.0h0M457.2 1047.2h0M457.2 1049.3h0M457.2 1051.5h0M457.2 1053.7h0M459.4 1023.1h0M459.4 1025.3h0M459.4 1027.5h0M459.4 1029.7h0M459.4 1031.9h0M459.4 1034.0h0M459.4 1036.2h0M459.4 1038.4h0M459.4 1040.6h0M459.4 1042.8h0M459.4 1045.0h0M459.4 1047.2h0M459.4 1049.3h0M459.4 1051.5h0M459.4 1053.7h0M463.8 1026.5h0M463.8 1029.2h0M463.8 1032.0h0M463.8 1034.8h0M463.8 1037.5h0M463.8 1040.2h0M463.8 1043.0h0M463.8 1045.8h0M463.8 1048.5h0M463.8 1050.5h0M465.4 1027.0h0M465.4 1030.2h0M465.4 1033.5h0M465.4 1036.8h0M465.4 1040.0h0M465.4 1043.2h0M465.4 1046.5h0M465.4 1049.8h0M467.0 1026.1h0M467.0 1029.4h0M467.0 1032.6h0M467.0 1035.9h0M467.0 1039.1h0M467.0 1042.4h0M467.0 1045.6h0M467.0 1048.9h0M467.0 1050.5h0M468.5 1026.8h0M468.5 1029.9h0M468.5 1033.0h0M468.5 1036.1h0M468.5 1039.9h0M468.5 1043.0h0M468.5 1046.1h0M468.5 1049.2h0M479.6 1038.4h0M487.5 1025.5h0M487.5 1027.8h0M487.5 1030.0h0M487.5 1032.2h0M487.5 1034.5h0M487.5 1036.8h0M487.5 1039.0h0M487.5 1041.2h0M487.5 1043.5h0M487.5 1045.8h0M487.5 1048.0h0M487.5 1050.2h0M487.5 1052.5h0M490.0 1024.0h0M490.0 1035.5h0M490.0 1041.1h0M499.6 1036.8h0M499.6 1039.8h0M504.8 1023.6h0M504.8 1026.1h0M504.8 1028.6h0M504.8 1031.1h0M504.8 1033.6h0M504.8 1036.1h0M504.8 1041.1h0M504.8 1043.6h0M504.8 1046.1h0M504.8 1048.6h0M504.8 1051.1h0M504.8 1053.0h0" stroke="#000" stroke-width="4.3" stroke-linecap="round" fill="none"/>
</svg>
</body></html>
